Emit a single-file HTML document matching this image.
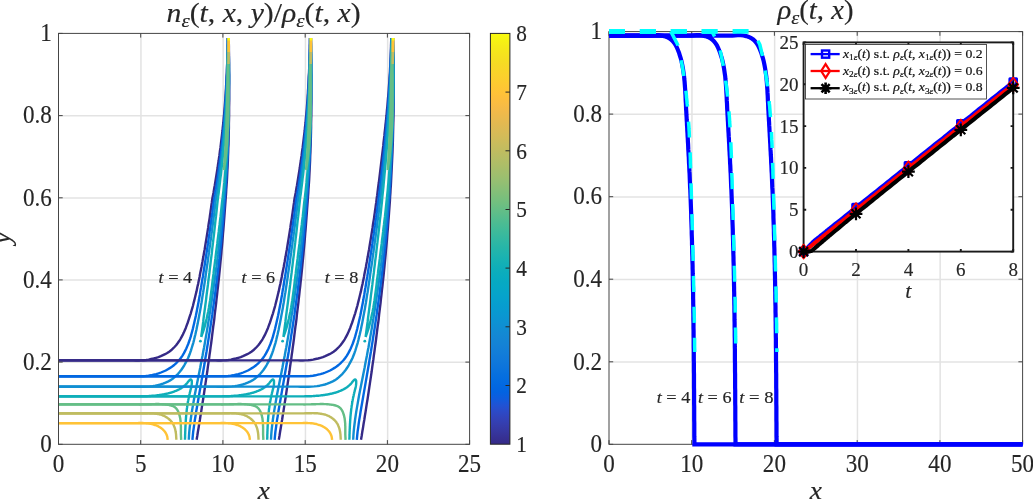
<!DOCTYPE html>
<html><head><meta charset="utf-8"><title>figure</title>
<style>html,body{margin:0;padding:0;background:#fff;overflow:hidden}svg{display:block}</style>
</head><body>
<svg width="1033" height="500" viewBox="0 0 1033 500">
<rect x="58.5" y="33.4" width="411.1" height="410.9" fill="#fff"/>
<path d="M140.7 33.4 V444.3 M222.9 33.4 V444.3 M305.2 33.4 V444.3 M387.4 33.4 V444.3 M58.5 362.1 H469.6 M58.5 279.9 H469.6 M58.5 197.8 H469.6 M58.5 115.6 H469.6" stroke="#e3e3e3" stroke-width="1.5" fill="none" transform="translate(0.25 0.2)"/>
<clipPath id="cl"><rect x="58.5" y="33.4" width="411.1" height="410.9"/></clipPath>
<g clip-path="url(#cl)" fill="none" stroke-width="2.4" stroke-linejoin="round" stroke-linecap="butt">
<path d="M58.5 360.4 L97.6 360.4 L100.5 360.4 L102.9 360.4 L105.4 360.4 L107.9 360.4 L110.4 360.4 L112.9 360.4 L115.4 360.4 L118.0 360.4 L120.5 360.4 L123.1 360.4 L125.6 360.4 L128.2 360.4 L130.8 360.4 L133.3 360.4 L135.9 360.5 L138.5 360.5 L141.1 360.4 L143.7 360.3 L146.2 360.0 L148.7 359.6 L151.2 359.0 L153.7 358.5 L156.1 357.8 L158.5 357.1 L160.8 356.2 L163.0 355.2 L165.1 354.2 L167.2 353.0 L169.2 351.7 L171.1 350.3 L172.8 348.7 L174.5 347.0 L176.1 345.3 L177.6 343.3 L179.0 341.3 L180.3 339.3 L181.5 337.1 L182.7 334.9 L183.8 332.6 L184.8 330.2 L185.8 327.9 L186.7 325.4 L187.6 323.0 L188.4 320.6 L189.2 318.1 L190.0 315.7 L190.8 313.3 L191.5 310.8 L192.2 308.4 L192.9 306.0 L193.5 303.5 L194.1 301.1 L194.7 298.7 L195.3 296.2 L195.9 293.8 L196.5 291.4 L197.0 288.9 L197.5 286.5 L198.1 284.1 L198.6 281.6 L199.1 279.2 L199.6 276.7 L200.0 274.3 L200.5 271.8 L201.0 269.4 L201.5 266.9 L201.9 264.5 L202.4 262.0 L202.8 259.6 L203.3 257.1 L203.7 254.7 L204.1 252.2 L204.6 249.7 L205.0 247.3 L205.4 244.8 L205.8 242.3 L206.2 239.9 L206.6 237.4 L207.0 234.9 L207.4 232.4 L207.8 230.0 L208.2 227.5 L208.5 225.0 L208.9 222.5 L209.3 220.1 L209.7 217.6 L210.0 215.1 L210.4 212.6 L210.7 210.1 L211.1 207.6 L211.4 205.2 L211.8 202.7 L212.1 200.2 L212.5 197.7 L213.0 195.2 L213.5 192.7 L213.9 190.2 L214.3 187.7 L214.8 185.3 L215.2 182.8 L215.6 180.3 L216.0 177.8 L216.4 175.3 L216.8 172.8 L217.2 170.3 L217.6 167.8 L217.9 165.3 L218.3 162.8 L218.7 160.3 L219.0 157.9 L219.4 155.4 L219.7 152.9 L220.0 150.4 L220.4 147.9 L220.7 145.4 L221.0 142.9 L221.3 140.4 L221.6 137.9 L221.9 135.4 L222.2 132.9 L222.5 130.5 L222.7 128.0 L223.0 125.5 L223.3 123.0 L223.5 120.5 L223.7 118.0 L224.0 115.5 L224.2 113.0 L224.4 110.5 L224.6 108.0 L224.8 105.5 L225.0 103.0 L225.2 100.6 L225.4 98.1 L225.5 95.6 L225.7 93.1 L225.8 90.6 L226.0 88.1 L226.1 85.6 L226.3 83.1 L226.4 80.6 L226.5 78.1 L226.6 75.6 L226.8 73.1 L226.9 70.6 L227.0 68.1 L227.1 65.6 L227.2 63.1 L227.2 60.6 L227.3 58.1 L227.4 55.6 L227.5 53.1 L227.5 50.5 L227.6 48.0 L227.6 45.5 L227.7 43.0 L227.7 40.5 L227.7 38.0 M196.6 439.8 L197.3 435.8 L197.9 431.8 L198.6 427.7 L199.2 423.7 L199.9 419.7 L200.5 415.7 L201.2 411.6 L201.8 407.6 L202.4 403.6 L203.1 399.5 L203.7 395.5 L204.3 391.5 L204.9 387.4 L205.5 383.4 L206.1 379.4 L206.7 375.3 L207.3 371.3 L207.8 367.3 L208.4 363.2 L209.0 359.2 L209.5 355.2 L210.1 351.1 L210.6 347.1 L211.2 343.0 L211.7 339.0 L212.2 334.9 L212.7 330.9 L213.2 326.8 L213.8 322.8 L214.3 318.8 L214.7 314.7 L215.2 310.7 L215.7 306.6 L216.2 302.6 L216.6 298.5 L217.1 294.4 L217.5 290.4 L218.0 286.3 L218.4 282.3 L218.9 278.2 L219.3 274.2 L219.7 270.1 L220.1 266.1 L220.5 262.0 L220.9 257.9 L221.3 253.9 L221.6 249.8 L222.0 245.8 L222.4 241.7 L222.7 237.6 L223.0 233.6 L223.4 229.5 L223.7 225.4 L224.0 221.4 L224.3 217.3 L224.6 213.3 L224.9 209.2 L225.2 205.1 L225.5 201.1 L225.8 197.0 L226.1 192.9 L226.3 188.8 L226.6 184.8 L226.9 180.7 L227.1 176.6 L227.3 172.6 L227.5 168.5 L227.7 164.4 L227.9 160.4 L228.0 156.3 L228.2 152.2 L228.3 148.1 L228.5 144.1 L228.6 140.0 L228.7 135.9 L228.8 131.8 L228.9 127.8 L228.9 123.7 L229.0 119.6 L229.1 115.5 L229.1 111.4 L229.1 107.4 L229.2 103.3 L229.2 99.2 L229.2 95.1 L229.2 91.1 L229.2 87.0 L229.2 82.9 L229.2 78.8 L229.2 74.7 L229.1 70.7 L229.1 66.6 L229.1 62.5 L229.0 58.4 L229.0 54.3 L228.9 50.2 L228.9 46.2 L228.8 42.1 L228.7 38.0" stroke="#352a87"/>
<path d="M58.5 376.2 L97.6 376.2 L100.5 376.2 L103.1 376.2 L105.6 376.2 L108.2 376.2 L110.9 376.2 L113.5 376.2 L116.2 376.2 L118.9 376.2 L121.6 376.2 L124.3 376.2 L127.0 376.2 L129.7 376.2 L132.4 376.2 L135.1 376.3 L137.8 376.3 L140.5 376.3 L143.2 376.2 L145.8 376.0 L148.5 375.7 L151.1 375.3 L153.6 374.7 L156.1 374.1 L158.6 373.4 L161.0 372.5 L163.4 371.5 L165.7 370.5 L167.9 369.2 L170.1 367.9 L172.2 366.5 L174.2 365.0 L176.0 363.3 L177.8 361.5 L179.5 359.7 L181.0 357.7 L182.5 355.6 L183.8 353.4 L185.0 351.1 L186.2 348.8 L187.2 346.4 L188.2 344.0 L189.1 341.5 L190.0 338.9 L190.8 336.4 L191.5 333.8 L192.2 331.2 L192.9 328.6 L193.5 326.0 L194.1 323.4 L194.7 320.8 L195.3 318.2 L195.9 315.6 L196.4 313.0 L196.9 310.4 L197.4 307.8 L197.9 305.2 L198.4 302.7 L198.9 300.1 L199.3 297.5 L199.8 295.0 L200.2 292.4 L200.6 289.8 L201.1 287.3 L201.5 284.7 L201.9 282.1 L202.3 279.6 L202.8 277.0 L203.2 274.4 L203.6 271.9 L204.0 269.3 L204.4 266.7 L204.8 264.2 L205.2 261.6 L205.6 259.0 L206.0 256.4 L206.4 253.9 L206.8 251.3 L207.2 248.7 L207.6 246.1 L208.0 243.5 L208.3 241.0 L208.7 238.4 L209.1 235.8 L209.5 233.2 L209.8 230.6 L210.2 228.0 L210.6 225.5 L210.9 222.9 L211.3 220.3 L211.7 217.7 L212.0 215.1 L212.4 212.5 L212.7 209.9 L213.1 207.3 L213.4 204.7 L213.7 202.1 L214.1 199.5 L214.5 197.0 L215.0 194.4 L215.4 191.8 L215.9 189.2 L216.3 186.6 L216.7 184.0 L217.1 181.4 L217.5 178.8 L217.9 176.2 L218.3 173.6 L218.6 171.0 L219.0 168.4 L219.3 165.8 L219.7 163.2 L220.0 160.6 L220.4 158.0 L220.7 155.4 L221.0 152.8 L221.3 150.1 L221.6 147.5 L221.9 144.9 L222.2 142.3 L222.4 139.7 L222.7 137.1 L222.9 134.5 L223.2 131.9 L223.4 129.3 L223.7 126.7 L223.9 124.1 L224.1 121.5 L224.3 118.9 L224.5 116.3 L224.7 113.7 L224.9 111.0 L225.1 108.4 L225.3 105.8 L225.4 103.2 L225.6 100.6 L225.7 98.0 L225.9 95.4 L226.0 92.8 L226.2 90.2 L226.3 87.6 L226.4 85.0 L226.5 82.3 L226.6 79.7 L226.7 77.1 L226.9 74.5 L227.0 71.9 L227.0 69.3 L227.1 66.7 L227.2 64.1 L227.3 61.5 L227.4 58.9 L227.5 56.3 L227.5 53.6 L227.6 51.0 L227.7 48.4 L227.7 45.8 L227.8 43.2 L227.8 40.6 L227.9 38.0 M192.4 439.8 L192.8 435.7 L193.2 431.7 L193.8 427.6 L194.3 423.6 L194.9 419.6 L195.6 415.6 L196.2 411.5 L196.9 407.5 L197.6 403.5 L198.3 399.5 L199.0 395.4 L199.7 391.4 L200.4 387.4 L201.1 383.4 L201.8 379.4 L202.5 375.3 L203.2 371.3 L203.9 367.3 L204.6 363.3 L205.2 359.2 L205.9 355.2 L206.6 351.2 L207.2 347.2 L207.9 343.1 L208.5 339.1 L209.1 335.1 L209.8 331.0 L210.4 327.0 L211.0 322.9 L211.6 318.9 L212.2 314.9 L212.7 310.8 L213.3 306.8 L213.9 302.7 L214.4 298.7 L215.0 294.6 L215.5 290.6 L216.0 286.5 L216.5 282.5 L217.0 278.4 L217.5 274.4 L218.0 270.3 L218.5 266.3 L218.9 262.2 L219.4 258.2 L219.8 254.1 L220.2 250.0 L220.7 246.0 L221.1 241.9 L221.5 237.8 L221.9 233.8 L222.2 229.7 L222.6 225.6 L223.0 221.6 L223.3 217.5 L223.6 213.4 L224.0 209.4 L224.3 205.3 L224.6 201.2 L224.9 197.2 L225.2 193.1 L225.6 189.0 L225.8 184.9 L226.1 180.9 L226.4 176.8 L226.6 172.7 L226.9 168.6 L227.1 164.6 L227.3 160.5 L227.5 156.4 L227.7 152.3 L227.8 148.2 L228.0 144.2 L228.1 140.1 L228.2 136.0 L228.3 131.9 L228.4 127.8 L228.5 123.8 L228.6 119.7 L228.7 115.6 L228.7 111.5 L228.8 107.4 L228.8 103.4 L228.9 99.3 L228.9 95.2 L228.9 91.1 L228.9 87.0 L229.0 82.9 L229.0 78.8 L229.0 74.8 L228.9 70.7 L228.9 66.6 L228.9 62.5 L228.9 58.4 L228.8 54.3 L228.8 50.3 L228.8 46.2 L228.7 42.1 L228.7 38.0" stroke="#0268e1"/>
<path d="M58.5 386.6 L97.6 386.6 L101.0 386.6 L103.7 386.6 L106.4 386.6 L109.1 386.6 L111.7 386.6 L114.4 386.6 L117.1 386.6 L119.7 386.6 L122.4 386.6 L125.1 386.6 L127.8 386.6 L130.5 386.6 L133.2 386.6 L136.0 386.7 L138.7 386.7 L141.5 386.8 L144.3 386.8 L147.1 386.6 L149.8 386.4 L152.6 386.1 L155.3 385.7 L157.9 385.1 L160.5 384.5 L163.0 383.7 L165.5 382.7 L167.8 381.7 L170.1 380.4 L172.3 379.0 L174.3 377.4 L176.2 375.6 L178.1 373.8 L179.8 371.8 L181.4 369.7 L182.9 367.5 L184.3 365.3 L185.6 362.9 L186.8 360.6 L188.0 358.2 L189.0 355.7 L190.0 353.2 L190.9 350.6 L191.7 348.0 L192.5 345.4 L193.3 342.8 L194.0 340.1 L194.6 337.4 L195.3 334.8 L195.9 332.1 L196.5 329.4 L197.0 326.7 L197.6 324.1 L198.1 321.4 L198.6 318.7 L199.1 316.1 L199.6 313.4 L200.1 310.8 L200.6 308.1 L201.0 305.5 L201.5 302.8 L201.9 300.2 L202.3 297.5 L202.7 294.9 L203.2 292.2 L203.6 289.6 L204.0 286.9 L204.4 284.3 L204.8 281.6 L205.2 279.0 L205.6 276.3 L205.9 273.7 L206.3 271.0 L206.7 268.4 L207.1 265.7 L207.5 263.1 L207.9 260.4 L208.2 257.8 L208.6 255.1 L209.0 252.5 L209.3 249.8 L209.7 247.1 L210.1 244.5 L210.4 241.8 L210.8 239.2 L211.2 236.5 L211.5 233.8 L211.9 231.2 L212.2 228.5 L212.6 225.8 L212.9 223.2 L213.2 220.5 L213.6 217.8 L213.9 215.2 L214.3 212.5 L214.6 209.8 L214.9 207.1 L215.2 204.5 L215.5 201.8 L215.9 199.1 L216.3 196.4 L216.7 193.8 L217.2 191.1 L217.6 188.4 L217.9 185.7 L218.3 183.0 L218.7 180.4 L219.1 177.7 L219.4 175.0 L219.8 172.3 L220.1 169.6 L220.4 167.0 L220.8 164.3 L221.1 161.6 L221.4 158.9 L221.7 156.2 L222.0 153.6 L222.3 150.9 L222.5 148.2 L222.8 145.5 L223.1 142.8 L223.3 140.1 L223.6 137.4 L223.8 134.8 L224.0 132.1 L224.2 129.4 L224.5 126.7 L224.7 124.0 L224.9 121.3 L225.1 118.6 L225.2 115.9 L225.4 113.3 L225.6 110.6 L225.7 107.9 L225.9 105.2 L226.0 102.5 L226.2 99.8 L226.3 97.1 L226.4 94.4 L226.5 91.7 L226.7 89.1 L226.8 86.4 L226.9 83.7 L227.0 81.0 L227.1 78.3 L227.2 75.6 L227.2 72.9 L227.3 70.2 L227.4 67.6 L227.5 64.9 L227.5 62.2 L227.6 59.5 L227.7 56.8 L227.7 54.1 L227.8 51.4 L227.8 48.7 L227.9 46.1 L227.9 43.4 L227.9 40.7 L228.0 38.0 M188.8 439.8 L189.0 435.7 L189.3 431.6 L189.7 427.6 L190.2 423.5 L190.7 419.5 L191.3 415.4 L191.9 411.4 L192.6 407.4 L193.3 403.4 L194.0 399.3 L194.7 395.3 L195.5 391.3 L196.3 387.3 L197.1 383.3 L197.9 379.3 L198.7 375.3 L199.5 371.3 L200.3 367.3 L201.0 363.3 L201.8 359.2 L202.6 355.2 L203.3 351.2 L204.1 347.2 L204.8 343.2 L205.5 339.1 L206.2 335.1 L206.9 331.1 L207.6 327.0 L208.2 323.0 L208.9 319.0 L209.5 314.9 L210.2 310.9 L210.8 306.9 L211.4 302.8 L212.0 298.8 L212.6 294.7 L213.2 290.7 L213.7 286.6 L214.3 282.6 L214.9 278.5 L215.4 274.5 L215.9 270.4 L216.5 266.4 L217.0 262.3 L217.5 258.2 L218.0 254.2 L218.4 250.1 L218.9 246.1 L219.4 242.0 L219.8 237.9 L220.3 233.9 L220.7 229.8 L221.1 225.7 L221.5 221.7 L222.0 217.6 L222.3 213.5 L222.7 209.5 L223.1 205.4 L223.5 201.3 L223.9 197.3 L224.3 193.2 L224.6 189.1 L225.0 185.0 L225.3 181.0 L225.7 176.9 L226.0 172.8 L226.3 168.7 L226.5 164.7 L226.8 160.6 L227.0 156.5 L227.3 152.4 L227.5 148.3 L227.7 144.3 L227.8 140.2 L228.0 136.1 L228.1 132.0 L228.3 127.9 L228.4 123.9 L228.5 119.8 L228.6 115.7 L228.7 111.6 L228.8 107.5 L228.8 103.4 L228.9 99.3 L228.9 95.3 L228.9 91.2 L229.0 87.1 L229.0 83.0 L229.0 78.9 L229.0 74.8 L229.0 70.7 L228.9 66.6 L228.9 62.5 L228.9 58.5 L228.8 54.4 L228.8 50.3 L228.7 46.2 L228.7 42.1 L228.6 38.0" stroke="#108ed2"/>
<path d="M58.5 396.4 L97.6 396.4 L98.3 396.4 L98.9 396.4 L99.4 396.4 L100.0 396.4 L100.5 396.4 L101.0 396.4 L101.6 396.4 L102.1 396.4 L102.7 396.4 L103.2 396.4 L103.8 396.4 L104.3 396.4 L104.8 396.4 L105.4 396.4 L105.9 396.4 L106.5 396.4 L107.0 396.4 L107.5 396.4 L108.1 396.4 L108.6 396.4 L109.2 396.4 L109.7 396.4 L110.2 396.4 L110.8 396.4 L111.3 396.4 L111.8 396.4 L112.4 396.4 L112.9 396.4 L113.5 396.4 L114.0 396.4 L114.5 396.4 L115.1 396.4 L115.6 396.4 L116.2 396.4 L116.7 396.4 L117.2 396.4 L117.8 396.4 L118.3 396.4 L118.8 396.4 L119.4 396.4 L119.9 396.4 L120.5 396.4 L121.0 396.4 L121.5 396.4 L122.1 396.4 L122.6 396.4 L123.1 396.4 L123.7 396.4 L124.2 396.4 L124.8 396.4 L125.3 396.4 L125.8 396.4 L126.4 396.4 L126.9 396.4 L127.5 396.4 L128.0 396.4 L128.5 396.4 L129.1 396.4 L129.6 396.4 L130.2 396.4 L130.7 396.4 L131.2 396.4 L131.8 396.4 L132.3 396.4 L132.9 396.4 L133.4 396.4 L133.9 396.4 L134.5 396.4 L135.0 396.4 L135.6 396.4 L136.1 396.4 L136.7 396.4 L137.2 396.4 L137.7 396.4 L138.3 396.4 L138.8 396.4 L139.4 396.4 L139.9 396.4 L140.5 396.3 L141.0 396.3 L141.6 396.3 L142.1 396.3 L142.6 396.3 L143.2 396.3 L143.7 396.3 L144.3 396.3 L144.8 396.2 L145.4 396.2 L145.9 396.2 L146.5 396.2 L147.0 396.2 L147.6 396.1 L148.1 396.1 L148.6 396.1 L149.2 396.0 L149.7 396.0 L150.3 396.0 L150.8 395.9 L151.4 395.9 L151.9 395.8 L152.4 395.8 L153.0 395.7 L153.5 395.7 L154.1 395.7 L154.6 395.6 L155.1 395.6 L155.7 395.5 L156.2 395.4 L156.8 395.4 L157.3 395.3 L157.8 395.3 L158.4 395.2 L158.9 395.1 L159.4 395.0 L160.0 395.0 L160.5 394.9 L161.0 394.8 L161.6 394.7 L162.1 394.6 L162.6 394.5 L163.2 394.5 L163.7 394.4 L164.2 394.3 L164.7 394.2 L165.3 394.0 L165.8 393.9 L166.3 393.8 L166.8 393.7 L167.4 393.6 L167.9 393.5 L168.4 393.3 L168.9 393.2 L169.4 393.0 L169.9 392.9 L170.5 392.8 L171.0 392.6 L171.5 392.5 L172.0 392.3 L172.5 392.1 L173.0 392.0 L173.5 391.8 L174.0 391.6 L174.5 391.4 L175.0 391.2 L175.5 391.0 L176.0 390.8 L176.5 390.6 L177.0 390.4 L177.5 390.2 L178.0 389.9 L178.5 389.7 L178.9 389.5 L179.4 389.2 L179.9 388.9 L180.3 388.7 L180.8 388.4 L181.3 388.1 L181.7 387.8 L182.2 387.5 L182.6 387.2 L183.0 386.9 L183.5 386.5 L183.9 386.2 L184.3 385.8 L184.8 385.4 L185.2 385.1 L185.6 384.7 L186.0 384.3 L186.4 383.9 L186.8 383.4 L187.2 383.0 L187.5 382.6 L187.9 382.1 L188.3 381.6 L188.6 381.2 L189.0 380.7 L189.4 380.3 L189.7 380.0 L190.0 379.7 L190.4 379.5 L190.7 379.5 L191.0 379.6 L191.3 379.8 L191.5 380.1 L191.7 380.6 L191.8 381.1 L191.8 381.7 L191.8 382.3 L191.8 383.0 L191.8 383.6 L191.7 384.2 L191.7 384.8 L191.6 385.3 L191.5 385.9 L191.4 386.4 L191.3 387.0 L191.2 387.5 L191.1 388.0 L190.9 388.5 L190.8 389.0 L190.7 389.5 L190.5 390.0 L190.4 390.5 L190.3 391.0 L190.2 391.6 L190.0 392.1 L189.9 392.6 L189.8 393.1 L189.7 393.6 L189.5 394.1 L189.4 394.6 L189.3 395.2 L189.2 395.7 L189.1 396.2 L189.0 396.7 L188.8 397.3 L188.7 397.8 L188.6 398.3 L188.5 398.9 L188.4 399.4 L188.3 399.9 L188.2 400.5 L188.1 401.0 L188.0 401.5 L187.9 402.1 L187.8 402.6 L187.7 403.2 L187.7 403.7 L187.6 404.2 L187.5 404.8 L187.4 405.3 L187.3 405.8 L187.2 406.4 L187.2 406.9 L187.1 407.5 L187.0 408.0 L186.9 408.5 L186.9 409.1 L186.8 409.6 L186.7 410.1 L186.7 410.7 L186.6 411.2 L186.6 411.8 L186.5 412.3 L186.4 412.8 L186.4 413.4 L186.3 413.9 L186.3 414.4 L186.2 415.0 L186.2 415.5 L186.1 416.1 L186.1 416.6 L186.0 417.1 L186.0 417.7 L186.0 418.2 L185.9 418.7 L185.9 419.3 L185.8 419.8 L185.8 420.4 L185.8 420.9 L185.7 421.4 L185.7 422.0 L185.7 422.5 L185.6 423.1 L185.6 423.6 L185.6 424.1 L185.5 424.7 L185.5 425.2 L185.5 425.7 L185.5 426.3 L185.4 426.8 L185.4 427.4 L185.4 427.9 L185.4 428.4 L185.3 429.0 L185.3 429.5 L185.3 430.1 L185.3 430.6 L185.3 431.1 L185.2 431.7 L185.2 432.2 L185.2 432.8 L185.2 433.3 L185.2 433.8 L185.1 434.4 L185.1 434.9 L185.1 435.5 L185.1 436.0 L185.1 436.5 L185.1 437.1 L185.1 437.6 L185.0 438.2 L185.0 438.7 L185.0 439.3 L185.0 439.8 M201.2 337.0 L201.7 333.2 L202.2 329.5 L202.7 325.7 L203.2 321.9 L203.6 318.2 L204.1 314.4 L204.6 310.6 L205.1 306.8 L205.6 303.1 L206.1 299.3 L206.5 295.5 L207.0 291.8 L207.5 288.0 L208.0 284.2 L208.4 280.4 L208.9 276.7 L209.4 272.9 L209.8 269.1 L210.3 265.3 L210.7 261.6 L211.2 257.8 L211.7 254.0 L212.1 250.2 L212.5 246.5 L213.0 242.7 L213.4 238.9 L213.9 235.1 L214.3 231.4 L214.7 227.6 L215.1 223.8 L215.5 220.0 L216.0 216.2 L216.4 212.5 L216.8 208.7 L217.2 204.9 L217.6 201.1 L218.0 197.3 L218.6 193.5 L219.0 189.8 L219.5 186.0 L220.0 182.2 L220.4 178.4 L220.9 174.6 L221.3 170.8 L221.7 167.1 L222.1 163.3 L222.5 159.5 L222.9 155.7 L223.2 151.9 L223.5 148.1 L223.9 144.3 L224.2 140.5 L224.5 136.7 L224.8 133.0 L225.0 129.2 L225.3 125.4 L225.5 121.6 L225.8 117.8 L226.0 114.0 L226.2 110.2 L226.4 106.4 L226.5 102.6 L226.7 98.8 L226.9 95.0 L227.0 91.2 L227.1 87.4 L227.3 83.6 L227.4 79.8 L227.5 76.0 L227.6 72.2 L227.7 68.4 L227.8 64.6 L227.8 60.8 L227.9 57.0 L228.0 53.2 L228.0 49.4 L228.1 45.6 L228.1 41.8 L228.1 38.0 M201.2 337.0 L202.5 333.4 L203.7 329.8 L204.8 326.2 L205.7 322.5 L206.6 318.8 L207.4 315.1 L208.2 311.4 L208.9 307.7 L209.5 303.9 L210.1 300.2 L210.6 296.4 L211.1 292.6 L211.6 288.8 L212.1 285.1 L212.5 281.3 L213.0 277.5 L213.5 273.7 L213.9 269.9 L214.4 266.1 L214.9 262.3 L215.4 258.5 L215.8 254.8 L216.3 251.0 L216.8 247.2 L217.3 243.4 L217.7 239.6 L218.2 235.8 L218.7 232.0 L219.1 228.2 L219.6 224.5 L220.0 220.7 L220.5 216.9 L220.9 213.1 L221.3 209.3 L221.7 205.5 L222.1 201.7 L222.6 197.9 L223.0 194.1 L223.5 190.3 L223.9 186.5 L224.3 182.7 L224.6 178.9 L225.0 175.1 L225.3 171.3 L225.6 167.5 L225.9 163.7 L226.2 159.9 L226.5 156.1 L226.7 152.3 L227.0 148.5 L227.2 144.7 L227.4 140.9 L227.6 137.1 L227.7 133.3 L227.9 129.5 L228.0 125.7 L228.2 121.9 L228.3 118.1 L228.4 114.3 L228.5 110.5 L228.6 106.7 L228.6 102.8 L228.7 99.0 L228.8 95.2 L228.8 91.4 L228.8 87.6 L228.9 83.8 L228.9 80.0 L228.9 76.2 L228.9 72.3 L228.9 68.5 L228.9 64.7 L228.8 60.9 L228.8 57.1 L228.8 53.3 L228.7 49.5 L228.7 45.6 L228.6 41.8 L228.6 38.0" stroke="#0faeb9"/>
<path d="M58.5 404.4 L97.6 404.4 L99.4 404.4 L100.4 404.4 L101.3 404.4 L102.3 404.4 L103.2 404.4 L104.2 404.4 L105.2 404.4 L106.1 404.4 L107.1 404.4 L108.0 404.4 L109.0 404.4 L109.9 404.4 L110.9 404.4 L111.9 404.4 L112.8 404.4 L113.8 404.4 L114.7 404.4 L115.7 404.4 L116.6 404.4 L117.6 404.4 L118.6 404.4 L119.5 404.4 L120.5 404.4 L121.4 404.4 L122.4 404.4 L123.3 404.4 L124.3 404.4 L125.3 404.4 L126.2 404.4 L127.2 404.4 L128.1 404.4 L129.1 404.4 L130.0 404.4 L131.0 404.4 L132.0 404.4 L132.9 404.4 L133.9 404.4 L134.8 404.4 L135.8 404.4 L136.7 404.4 L137.7 404.4 L138.7 404.4 L139.6 404.5 L140.6 404.5 L141.5 404.4 L142.5 404.4 L143.4 404.4 L144.4 404.4 L145.3 404.4 L146.3 404.4 L147.3 404.3 L148.2 404.3 L149.2 404.3 L150.1 404.2 L151.1 404.2 L152.0 404.1 L153.0 404.1 L153.9 404.1 L154.9 404.1 L155.9 404.0 L156.8 404.0 L157.8 404.0 L158.7 404.0 L159.7 404.1 L160.6 404.1 L161.6 404.1 L162.6 404.2 L163.5 404.3 L164.5 404.4 L165.4 404.5 L166.4 404.6 L167.4 404.7 L168.3 404.9 L169.3 405.0 L170.2 405.3 L171.2 405.5 L172.1 405.8 L173.0 406.1 L173.8 406.6 L174.6 407.0 L175.3 407.6 L176.0 408.2 L176.6 408.9 L177.1 409.6 L177.6 410.4 L178.1 411.3 L178.5 412.2 L178.8 413.1 L179.1 414.0 L179.4 415.0 L179.7 415.9 L179.9 416.9 L180.1 417.8 L180.3 418.8 L180.4 419.8 L180.5 420.7 L180.6 421.7 L180.7 422.6 L180.8 423.6 L180.8 424.5 L180.8 425.5 L180.9 426.4 L180.9 427.4 L180.9 428.3 L180.9 429.3 L180.9 430.2 L180.9 431.2 L180.9 432.2 L180.9 433.1 L180.9 434.1 L180.9 435.0 L181.0 436.0 L181.0 436.9 L181.1 437.9 L181.1 438.8 L181.2 439.8 M223.9 170.0 L224.1 166.6 L224.4 163.2 L224.6 159.9 L224.9 156.5 L225.1 153.1 L225.3 149.7 L225.5 146.3 L225.7 143.0 L225.8 139.6 L226.0 136.2 L226.1 132.8 L226.3 129.4 L226.4 126.0 L226.5 122.6 L226.6 119.3 L226.7 115.9 L226.8 112.5 L226.9 109.1 L227.0 105.7 L227.1 102.3 L227.2 98.9 L227.2 95.6 L227.3 92.2 L227.4 88.8 L227.4 85.4 L227.5 82.0 L227.6 78.6 L227.6 75.2 L227.7 71.9 L227.7 68.5 L227.8 65.1 L227.8 61.7 L227.9 58.3 L228.0 54.9 L228.0 51.5 L228.1 48.2 L228.2 44.8 L228.2 41.4 L228.3 38.0 M223.9 170.0 L224.4 166.6 L224.9 163.3 L225.4 159.9 L225.8 156.6 L226.2 153.2 L226.5 149.8 L226.8 146.5 L227.1 143.1 L227.3 139.7 L227.5 136.3 L227.7 132.9 L227.8 129.6 L228.0 126.2 L228.1 122.8 L228.2 119.4 L228.3 116.0 L228.3 112.6 L228.4 109.2 L228.4 105.8 L228.4 102.5 L228.5 99.1 L228.5 95.7 L228.5 92.3 L228.5 88.9 L228.5 85.5 L228.5 82.1 L228.4 78.7 L228.4 75.3 L228.4 71.9 L228.4 68.5 L228.4 65.1 L228.4 61.7 L228.4 58.3 L228.4 54.9 L228.4 51.5 L228.4 48.2 L228.4 44.8 L228.5 41.4 L228.5 38.0" stroke="#65be86"/>
<path d="M58.5 413.4 L97.6 413.4 L98.9 413.4 L99.7 413.4 L100.5 413.4 L101.3 413.4 L102.2 413.4 L103.0 413.4 L103.8 413.4 L104.6 413.4 L105.4 413.4 L106.3 413.4 L107.1 413.4 L107.9 413.4 L108.7 413.4 L109.5 413.4 L110.3 413.4 L111.2 413.4 L112.0 413.4 L112.8 413.4 L113.6 413.4 L114.4 413.4 L115.2 413.4 L116.1 413.4 L116.9 413.4 L117.7 413.4 L118.5 413.4 L119.3 413.4 L120.1 413.4 L121.0 413.4 L121.8 413.4 L122.6 413.4 L123.4 413.4 L124.2 413.4 L125.0 413.4 L125.9 413.4 L126.7 413.4 L127.5 413.4 L128.3 413.4 L129.1 413.4 L129.9 413.4 L130.8 413.4 L131.6 413.4 L132.4 413.4 L133.2 413.4 L134.0 413.4 L134.9 413.4 L135.7 413.4 L136.5 413.4 L137.3 413.4 L138.1 413.4 L139.0 413.4 L139.8 413.4 L140.6 413.3 L141.4 413.3 L142.2 413.3 L143.1 413.3 L143.9 413.2 L144.7 413.2 L145.5 413.2 L146.3 413.2 L147.2 413.2 L148.0 413.1 L148.8 413.1 L149.6 413.2 L150.5 413.2 L151.3 413.2 L152.1 413.3 L152.9 413.3 L153.7 413.4 L154.6 413.5 L155.4 413.6 L156.2 413.7 L157.0 413.8 L157.8 414.0 L158.6 414.1 L159.4 414.3 L160.2 414.5 L161.0 414.7 L161.8 415.0 L162.6 415.3 L163.3 415.6 L164.1 415.9 L164.8 416.3 L165.5 416.7 L166.2 417.1 L166.9 417.5 L167.6 418.0 L168.2 418.4 L168.8 419.0 L169.4 419.5 L170.0 420.0 L170.6 420.6 L171.1 421.2 L171.6 421.8 L172.1 422.5 L172.5 423.1 L173.0 423.8 L173.4 424.5 L173.7 425.2 L174.0 426.0 L174.3 426.7 L174.6 427.5 L174.9 428.3 L175.1 429.1 L175.3 429.9 L175.5 430.8 L175.6 431.6 L175.8 432.4 L175.9 433.3 L176.0 434.1 L176.1 434.9 L176.1 435.8 L176.2 436.6 L176.2 437.4 L176.3 438.2 L176.3 439.0 L176.3 439.8 M228.5 64.0 L228.6 61.1 L228.6 58.2 L228.6 55.3 L228.6 52.4 L228.6 49.6 L228.6 46.7 L228.6 43.8 L228.7 40.9 L228.7 38.0 M228.5 64.0 L228.6 61.1 L228.7 58.2 L228.7 55.3 L228.8 52.4 L228.8 49.6 L228.8 46.7 L228.8 43.8 L228.8 40.9 L228.8 38.0" stroke="#c0bc60"/>
<path d="M58.5 423.1 L97.6 423.1 L98.3 423.1 L99.0 423.1 L99.7 423.1 L100.4 423.1 L101.1 423.1 L101.7 423.1 L102.4 423.1 L103.1 423.1 L103.8 423.1 L104.4 423.1 L105.1 423.1 L105.8 423.1 L106.5 423.1 L107.1 423.1 L107.8 423.1 L108.5 423.1 L109.2 423.1 L109.8 423.1 L110.5 423.1 L111.2 423.1 L111.8 423.1 L112.5 423.1 L113.2 423.1 L113.9 423.1 L114.5 423.1 L115.2 423.1 L115.9 423.1 L116.5 423.1 L117.2 423.1 L117.9 423.1 L118.6 423.1 L119.2 423.1 L119.9 423.1 L120.6 423.1 L121.2 423.1 L121.9 423.1 L122.6 423.1 L123.3 423.1 L123.9 423.1 L124.6 423.1 L125.3 423.1 L125.9 423.1 L126.6 423.1 L127.3 423.1 L128.0 423.1 L128.6 423.1 L129.3 423.1 L130.0 423.1 L130.7 423.1 L131.3 423.1 L132.0 423.1 L132.7 423.1 L133.4 423.1 L134.0 423.1 L134.7 423.1 L135.4 423.1 L136.1 423.1 L136.8 423.1 L137.4 423.1 L138.1 423.1 L138.8 423.0 L139.5 423.0 L140.2 423.0 L140.8 423.0 L141.5 423.0 L142.2 423.0 L142.9 423.0 L143.6 423.1 L144.2 423.1 L144.9 423.1 L145.6 423.1 L146.3 423.2 L147.0 423.3 L147.6 423.3 L148.3 423.4 L149.0 423.5 L149.7 423.6 L150.3 423.7 L151.0 423.9 L151.7 424.0 L152.3 424.2 L153.0 424.4 L153.6 424.6 L154.3 424.8 L154.9 425.0 L155.6 425.2 L156.2 425.4 L156.8 425.7 L157.5 426.0 L158.1 426.2 L158.7 426.6 L159.2 426.9 L159.8 427.2 L160.4 427.6 L160.9 427.9 L161.4 428.3 L162.0 428.7 L162.5 429.1 L162.9 429.6 L163.4 430.0 L163.8 430.5 L164.3 431.0 L164.7 431.5 L165.1 432.0 L165.4 432.5 L165.8 433.1 L166.1 433.7 L166.4 434.3 L166.6 434.9 L166.9 435.5 L167.1 436.2 L167.3 436.9 L167.4 437.6 L167.5 438.3 L167.6 439.0 L167.7 439.8 M228.7 52.0 L228.7 48.5 L228.7 45.0 L228.7 41.5 L228.7 38.0 M228.7 52.0 L228.8 48.5 L228.8 45.0 L228.8 41.5 L228.8 38.0" stroke="#ffc337"/>
<path d="M228.8 40.5 L228.8 39.2 L228.8 38.0" stroke="#f9fb0e"/>
<circle cx="200.4" cy="341.2" r="1.4" fill="#0faeb9" stroke="none"/>
<path d="M58.5 360.4 L179.8 360.4 L182.7 360.4 L185.1 360.4 L187.6 360.4 L190.1 360.4 L192.6 360.4 L195.1 360.4 L197.6 360.4 L200.2 360.4 L202.7 360.4 L205.3 360.4 L207.8 360.4 L210.4 360.4 L213.0 360.4 L215.5 360.4 L218.1 360.5 L220.7 360.5 L223.3 360.4 L225.9 360.3 L228.4 360.0 L230.9 359.6 L233.4 359.0 L235.9 358.5 L238.3 357.8 L240.7 357.1 L243.0 356.2 L245.2 355.2 L247.3 354.2 L249.4 353.0 L251.4 351.7 L253.3 350.3 L255.0 348.7 L256.7 347.0 L258.3 345.3 L259.8 343.3 L261.2 341.3 L262.5 339.3 L263.7 337.1 L264.9 334.9 L266.0 332.6 L267.0 330.2 L268.0 327.9 L268.9 325.4 L269.8 323.0 L270.6 320.6 L271.4 318.1 L272.2 315.7 L273.0 313.3 L273.7 310.8 L274.4 308.4 L275.1 306.0 L275.7 303.5 L276.3 301.1 L276.9 298.7 L277.5 296.2 L278.1 293.8 L278.7 291.4 L279.2 288.9 L279.7 286.5 L280.3 284.1 L280.8 281.6 L281.3 279.2 L281.8 276.7 L282.2 274.3 L282.7 271.8 L283.2 269.4 L283.7 266.9 L284.1 264.5 L284.6 262.0 L285.0 259.6 L285.5 257.1 L285.9 254.7 L286.3 252.2 L286.8 249.7 L287.2 247.3 L287.6 244.8 L288.0 242.3 L288.4 239.9 L288.8 237.4 L289.2 234.9 L289.6 232.4 L290.0 230.0 L290.4 227.5 L290.7 225.0 L291.1 222.5 L291.5 220.1 L291.9 217.6 L292.2 215.1 L292.6 212.6 L292.9 210.1 L293.3 207.6 L293.6 205.2 L294.0 202.7 L294.3 200.2 L294.7 197.7 L295.2 195.2 L295.7 192.7 L296.1 190.2 L296.5 187.7 L297.0 185.3 L297.4 182.8 L297.8 180.3 L298.2 177.8 L298.6 175.3 L299.0 172.8 L299.4 170.3 L299.8 167.8 L300.1 165.3 L300.5 162.8 L300.9 160.3 L301.2 157.9 L301.6 155.4 L301.9 152.9 L302.2 150.4 L302.6 147.9 L302.9 145.4 L303.2 142.9 L303.5 140.4 L303.8 137.9 L304.1 135.4 L304.4 132.9 L304.7 130.5 L304.9 128.0 L305.2 125.5 L305.5 123.0 L305.7 120.5 L305.9 118.0 L306.2 115.5 L306.4 113.0 L306.6 110.5 L306.8 108.0 L307.0 105.5 L307.2 103.0 L307.4 100.6 L307.6 98.1 L307.7 95.6 L307.9 93.1 L308.0 90.6 L308.2 88.1 L308.3 85.6 L308.5 83.1 L308.6 80.6 L308.7 78.1 L308.8 75.6 L309.0 73.1 L309.1 70.6 L309.2 68.1 L309.3 65.6 L309.4 63.1 L309.4 60.6 L309.5 58.1 L309.6 55.6 L309.7 53.1 L309.7 50.5 L309.8 48.0 L309.8 45.5 L309.9 43.0 L309.9 40.5 L309.9 38.0 M278.8 439.8 L279.5 435.8 L280.1 431.8 L280.8 427.7 L281.4 423.7 L282.1 419.7 L282.7 415.7 L283.4 411.6 L284.0 407.6 L284.6 403.6 L285.3 399.5 L285.9 395.5 L286.5 391.5 L287.1 387.4 L287.7 383.4 L288.3 379.4 L288.9 375.3 L289.5 371.3 L290.0 367.3 L290.6 363.2 L291.2 359.2 L291.7 355.2 L292.3 351.1 L292.8 347.1 L293.4 343.0 L293.9 339.0 L294.4 334.9 L294.9 330.9 L295.4 326.8 L296.0 322.8 L296.5 318.8 L296.9 314.7 L297.4 310.7 L297.9 306.6 L298.4 302.6 L298.8 298.5 L299.3 294.4 L299.7 290.4 L300.2 286.3 L300.6 282.3 L301.1 278.2 L301.5 274.2 L301.9 270.1 L302.3 266.1 L302.7 262.0 L303.1 257.9 L303.5 253.9 L303.8 249.8 L304.2 245.8 L304.6 241.7 L304.9 237.6 L305.2 233.6 L305.6 229.5 L305.9 225.4 L306.2 221.4 L306.5 217.3 L306.8 213.3 L307.1 209.2 L307.4 205.1 L307.7 201.1 L308.0 197.0 L308.3 192.9 L308.5 188.8 L308.8 184.8 L309.1 180.7 L309.3 176.6 L309.5 172.6 L309.7 168.5 L309.9 164.4 L310.1 160.4 L310.2 156.3 L310.4 152.2 L310.5 148.1 L310.7 144.1 L310.8 140.0 L310.9 135.9 L311.0 131.8 L311.1 127.8 L311.1 123.7 L311.2 119.6 L311.3 115.5 L311.3 111.4 L311.3 107.4 L311.4 103.3 L311.4 99.2 L311.4 95.1 L311.4 91.1 L311.4 87.0 L311.4 82.9 L311.4 78.8 L311.4 74.7 L311.3 70.7 L311.3 66.6 L311.3 62.5 L311.2 58.4 L311.2 54.3 L311.1 50.2 L311.1 46.2 L311.0 42.1 L310.9 38.0" stroke="#352a87"/>
<path d="M58.5 376.2 L179.8 376.2 L182.7 376.2 L185.3 376.2 L187.8 376.2 L190.4 376.2 L193.1 376.2 L195.7 376.2 L198.4 376.2 L201.1 376.2 L203.8 376.2 L206.5 376.2 L209.2 376.2 L211.9 376.2 L214.6 376.2 L217.3 376.3 L220.0 376.3 L222.7 376.3 L225.4 376.2 L228.0 376.0 L230.7 375.7 L233.3 375.3 L235.8 374.7 L238.3 374.1 L240.8 373.4 L243.2 372.5 L245.6 371.5 L247.9 370.5 L250.1 369.2 L252.3 367.9 L254.4 366.5 L256.4 365.0 L258.2 363.3 L260.0 361.5 L261.7 359.7 L263.2 357.7 L264.7 355.6 L266.0 353.4 L267.2 351.1 L268.4 348.8 L269.4 346.4 L270.4 344.0 L271.3 341.5 L272.2 338.9 L273.0 336.4 L273.7 333.8 L274.4 331.2 L275.1 328.6 L275.7 326.0 L276.3 323.4 L276.9 320.8 L277.5 318.2 L278.1 315.6 L278.6 313.0 L279.1 310.4 L279.6 307.8 L280.1 305.2 L280.6 302.7 L281.1 300.1 L281.5 297.5 L282.0 295.0 L282.4 292.4 L282.8 289.8 L283.3 287.3 L283.7 284.7 L284.1 282.1 L284.5 279.6 L285.0 277.0 L285.4 274.4 L285.8 271.9 L286.2 269.3 L286.6 266.7 L287.0 264.2 L287.4 261.6 L287.8 259.0 L288.2 256.4 L288.6 253.9 L289.0 251.3 L289.4 248.7 L289.8 246.1 L290.2 243.5 L290.5 241.0 L290.9 238.4 L291.3 235.8 L291.7 233.2 L292.0 230.6 L292.4 228.0 L292.8 225.5 L293.1 222.9 L293.5 220.3 L293.9 217.7 L294.2 215.1 L294.6 212.5 L294.9 209.9 L295.3 207.3 L295.6 204.7 L295.9 202.1 L296.3 199.5 L296.7 197.0 L297.2 194.4 L297.6 191.8 L298.1 189.2 L298.5 186.6 L298.9 184.0 L299.3 181.4 L299.7 178.8 L300.1 176.2 L300.5 173.6 L300.8 171.0 L301.2 168.4 L301.5 165.8 L301.9 163.2 L302.2 160.6 L302.6 158.0 L302.9 155.4 L303.2 152.8 L303.5 150.1 L303.8 147.5 L304.1 144.9 L304.4 142.3 L304.6 139.7 L304.9 137.1 L305.1 134.5 L305.4 131.9 L305.6 129.3 L305.9 126.7 L306.1 124.1 L306.3 121.5 L306.5 118.9 L306.7 116.3 L306.9 113.7 L307.1 111.0 L307.3 108.4 L307.5 105.8 L307.6 103.2 L307.8 100.6 L307.9 98.0 L308.1 95.4 L308.2 92.8 L308.4 90.2 L308.5 87.6 L308.6 85.0 L308.7 82.3 L308.8 79.7 L308.9 77.1 L309.1 74.5 L309.2 71.9 L309.2 69.3 L309.3 66.7 L309.4 64.1 L309.5 61.5 L309.6 58.9 L309.7 56.3 L309.7 53.6 L309.8 51.0 L309.9 48.4 L309.9 45.8 L310.0 43.2 L310.0 40.6 L310.1 38.0 M274.6 439.8 L275.0 435.7 L275.4 431.7 L276.0 427.6 L276.5 423.6 L277.1 419.6 L277.8 415.6 L278.4 411.5 L279.1 407.5 L279.8 403.5 L280.5 399.5 L281.2 395.4 L281.9 391.4 L282.6 387.4 L283.3 383.4 L284.0 379.4 L284.7 375.3 L285.4 371.3 L286.1 367.3 L286.8 363.3 L287.4 359.2 L288.1 355.2 L288.8 351.2 L289.4 347.2 L290.1 343.1 L290.7 339.1 L291.3 335.1 L292.0 331.0 L292.6 327.0 L293.2 322.9 L293.8 318.9 L294.4 314.9 L294.9 310.8 L295.5 306.8 L296.1 302.7 L296.6 298.7 L297.2 294.6 L297.7 290.6 L298.2 286.5 L298.7 282.5 L299.2 278.4 L299.7 274.4 L300.2 270.3 L300.7 266.3 L301.1 262.2 L301.6 258.2 L302.0 254.1 L302.4 250.0 L302.9 246.0 L303.3 241.9 L303.7 237.8 L304.1 233.8 L304.4 229.7 L304.8 225.6 L305.2 221.6 L305.5 217.5 L305.8 213.4 L306.2 209.4 L306.5 205.3 L306.8 201.2 L307.1 197.2 L307.4 193.1 L307.8 189.0 L308.0 184.9 L308.3 180.9 L308.6 176.8 L308.8 172.7 L309.1 168.6 L309.3 164.6 L309.5 160.5 L309.7 156.4 L309.9 152.3 L310.0 148.2 L310.2 144.2 L310.3 140.1 L310.4 136.0 L310.5 131.9 L310.6 127.8 L310.7 123.8 L310.8 119.7 L310.9 115.6 L310.9 111.5 L311.0 107.4 L311.0 103.4 L311.1 99.3 L311.1 95.2 L311.1 91.1 L311.1 87.0 L311.2 82.9 L311.2 78.8 L311.2 74.8 L311.1 70.7 L311.1 66.6 L311.1 62.5 L311.1 58.4 L311.0 54.3 L311.0 50.3 L311.0 46.2 L310.9 42.1 L310.9 38.0" stroke="#0268e1"/>
<path d="M58.5 386.6 L179.8 386.6 L183.2 386.6 L185.9 386.6 L188.6 386.6 L191.3 386.6 L193.9 386.6 L196.6 386.6 L199.3 386.6 L201.9 386.6 L204.6 386.6 L207.3 386.6 L210.0 386.6 L212.7 386.6 L215.4 386.6 L218.2 386.7 L220.9 386.7 L223.7 386.8 L226.5 386.8 L229.3 386.6 L232.0 386.4 L234.8 386.1 L237.5 385.7 L240.1 385.1 L242.7 384.5 L245.2 383.7 L247.7 382.7 L250.0 381.7 L252.3 380.4 L254.5 379.0 L256.5 377.4 L258.4 375.6 L260.3 373.8 L262.0 371.8 L263.6 369.7 L265.1 367.5 L266.5 365.3 L267.8 362.9 L269.0 360.6 L270.2 358.2 L271.2 355.7 L272.2 353.2 L273.1 350.6 L273.9 348.0 L274.7 345.4 L275.5 342.8 L276.2 340.1 L276.8 337.4 L277.5 334.8 L278.1 332.1 L278.7 329.4 L279.2 326.7 L279.8 324.1 L280.3 321.4 L280.8 318.7 L281.3 316.1 L281.8 313.4 L282.3 310.8 L282.8 308.1 L283.2 305.5 L283.7 302.8 L284.1 300.2 L284.5 297.5 L284.9 294.9 L285.4 292.2 L285.8 289.6 L286.2 286.9 L286.6 284.3 L287.0 281.6 L287.4 279.0 L287.8 276.3 L288.1 273.7 L288.5 271.0 L288.9 268.4 L289.3 265.7 L289.7 263.1 L290.1 260.4 L290.4 257.8 L290.8 255.1 L291.2 252.5 L291.5 249.8 L291.9 247.1 L292.3 244.5 L292.6 241.8 L293.0 239.2 L293.4 236.5 L293.7 233.8 L294.1 231.2 L294.4 228.5 L294.8 225.8 L295.1 223.2 L295.4 220.5 L295.8 217.8 L296.1 215.2 L296.5 212.5 L296.8 209.8 L297.1 207.1 L297.4 204.5 L297.7 201.8 L298.1 199.1 L298.5 196.4 L298.9 193.8 L299.4 191.1 L299.8 188.4 L300.1 185.7 L300.5 183.0 L300.9 180.4 L301.3 177.7 L301.6 175.0 L302.0 172.3 L302.3 169.6 L302.6 167.0 L303.0 164.3 L303.3 161.6 L303.6 158.9 L303.9 156.2 L304.2 153.6 L304.5 150.9 L304.7 148.2 L305.0 145.5 L305.3 142.8 L305.5 140.1 L305.8 137.4 L306.0 134.8 L306.2 132.1 L306.4 129.4 L306.7 126.7 L306.9 124.0 L307.1 121.3 L307.3 118.6 L307.4 115.9 L307.6 113.3 L307.8 110.6 L307.9 107.9 L308.1 105.2 L308.2 102.5 L308.4 99.8 L308.5 97.1 L308.6 94.4 L308.7 91.7 L308.9 89.1 L309.0 86.4 L309.1 83.7 L309.2 81.0 L309.3 78.3 L309.4 75.6 L309.4 72.9 L309.5 70.2 L309.6 67.6 L309.7 64.9 L309.7 62.2 L309.8 59.5 L309.9 56.8 L309.9 54.1 L310.0 51.4 L310.0 48.7 L310.1 46.1 L310.1 43.4 L310.1 40.7 L310.2 38.0 M271.0 439.8 L271.2 435.7 L271.5 431.6 L271.9 427.6 L272.4 423.5 L272.9 419.5 L273.5 415.4 L274.1 411.4 L274.8 407.4 L275.5 403.4 L276.2 399.3 L276.9 395.3 L277.7 391.3 L278.5 387.3 L279.3 383.3 L280.1 379.3 L280.9 375.3 L281.7 371.3 L282.5 367.3 L283.2 363.3 L284.0 359.2 L284.8 355.2 L285.5 351.2 L286.3 347.2 L287.0 343.2 L287.7 339.1 L288.4 335.1 L289.1 331.1 L289.8 327.0 L290.4 323.0 L291.1 319.0 L291.7 314.9 L292.4 310.9 L293.0 306.9 L293.6 302.8 L294.2 298.8 L294.8 294.7 L295.4 290.7 L295.9 286.6 L296.5 282.6 L297.1 278.5 L297.6 274.5 L298.1 270.4 L298.7 266.4 L299.2 262.3 L299.7 258.2 L300.2 254.2 L300.6 250.1 L301.1 246.1 L301.6 242.0 L302.0 237.9 L302.5 233.9 L302.9 229.8 L303.3 225.7 L303.7 221.7 L304.2 217.6 L304.5 213.5 L304.9 209.5 L305.3 205.4 L305.7 201.3 L306.1 197.3 L306.5 193.2 L306.8 189.1 L307.2 185.0 L307.5 181.0 L307.9 176.9 L308.2 172.8 L308.5 168.7 L308.7 164.7 L309.0 160.6 L309.2 156.5 L309.5 152.4 L309.7 148.3 L309.9 144.3 L310.0 140.2 L310.2 136.1 L310.3 132.0 L310.5 127.9 L310.6 123.9 L310.7 119.8 L310.8 115.7 L310.9 111.6 L311.0 107.5 L311.0 103.4 L311.1 99.3 L311.1 95.3 L311.1 91.2 L311.2 87.1 L311.2 83.0 L311.2 78.9 L311.2 74.8 L311.2 70.7 L311.1 66.6 L311.1 62.5 L311.1 58.5 L311.0 54.4 L311.0 50.3 L310.9 46.2 L310.9 42.1 L310.8 38.0" stroke="#108ed2"/>
<path d="M58.5 396.4 L179.8 396.4 L180.5 396.4 L181.1 396.4 L181.6 396.4 L182.2 396.4 L182.7 396.4 L183.2 396.4 L183.8 396.4 L184.3 396.4 L184.9 396.4 L185.4 396.4 L186.0 396.4 L186.5 396.4 L187.0 396.4 L187.6 396.4 L188.1 396.4 L188.7 396.4 L189.2 396.4 L189.7 396.4 L190.3 396.4 L190.8 396.4 L191.4 396.4 L191.9 396.4 L192.4 396.4 L193.0 396.4 L193.5 396.4 L194.0 396.4 L194.6 396.4 L195.1 396.4 L195.7 396.4 L196.2 396.4 L196.7 396.4 L197.3 396.4 L197.8 396.4 L198.4 396.4 L198.9 396.4 L199.4 396.4 L200.0 396.4 L200.5 396.4 L201.0 396.4 L201.6 396.4 L202.1 396.4 L202.7 396.4 L203.2 396.4 L203.7 396.4 L204.3 396.4 L204.8 396.4 L205.3 396.4 L205.9 396.4 L206.4 396.4 L207.0 396.4 L207.5 396.4 L208.0 396.4 L208.6 396.4 L209.1 396.4 L209.7 396.4 L210.2 396.4 L210.7 396.4 L211.3 396.4 L211.8 396.4 L212.4 396.4 L212.9 396.4 L213.4 396.4 L214.0 396.4 L214.5 396.4 L215.1 396.4 L215.6 396.4 L216.1 396.4 L216.7 396.4 L217.2 396.4 L217.8 396.4 L218.3 396.4 L218.9 396.4 L219.4 396.4 L219.9 396.4 L220.5 396.4 L221.0 396.4 L221.6 396.4 L222.1 396.4 L222.7 396.3 L223.2 396.3 L223.8 396.3 L224.3 396.3 L224.8 396.3 L225.4 396.3 L225.9 396.3 L226.5 396.3 L227.0 396.2 L227.6 396.2 L228.1 396.2 L228.7 396.2 L229.2 396.2 L229.8 396.1 L230.3 396.1 L230.8 396.1 L231.4 396.0 L231.9 396.0 L232.5 396.0 L233.0 395.9 L233.6 395.9 L234.1 395.8 L234.6 395.8 L235.2 395.7 L235.7 395.7 L236.3 395.7 L236.8 395.6 L237.3 395.6 L237.9 395.5 L238.4 395.4 L239.0 395.4 L239.5 395.3 L240.0 395.3 L240.6 395.2 L241.1 395.1 L241.6 395.0 L242.2 395.0 L242.7 394.9 L243.2 394.8 L243.8 394.7 L244.3 394.6 L244.8 394.5 L245.4 394.5 L245.9 394.4 L246.4 394.3 L246.9 394.2 L247.5 394.0 L248.0 393.9 L248.5 393.8 L249.0 393.7 L249.6 393.6 L250.1 393.5 L250.6 393.3 L251.1 393.2 L251.6 393.0 L252.1 392.9 L252.7 392.8 L253.2 392.6 L253.7 392.5 L254.2 392.3 L254.7 392.1 L255.2 392.0 L255.7 391.8 L256.2 391.6 L256.7 391.4 L257.2 391.2 L257.7 391.0 L258.2 390.8 L258.7 390.6 L259.2 390.4 L259.7 390.2 L260.2 389.9 L260.7 389.7 L261.1 389.5 L261.6 389.2 L262.1 388.9 L262.5 388.7 L263.0 388.4 L263.5 388.1 L263.9 387.8 L264.4 387.5 L264.8 387.2 L265.2 386.9 L265.7 386.5 L266.1 386.2 L266.5 385.8 L267.0 385.4 L267.4 385.1 L267.8 384.7 L268.2 384.3 L268.6 383.9 L269.0 383.4 L269.4 383.0 L269.7 382.6 L270.1 382.1 L270.5 381.6 L270.8 381.2 L271.2 380.7 L271.6 380.3 L271.9 380.0 L272.2 379.7 L272.6 379.5 L272.9 379.5 L273.2 379.6 L273.5 379.8 L273.7 380.1 L273.9 380.6 L274.0 381.1 L274.0 381.7 L274.0 382.3 L274.0 383.0 L274.0 383.6 L273.9 384.2 L273.9 384.8 L273.8 385.3 L273.7 385.9 L273.6 386.4 L273.5 387.0 L273.4 387.5 L273.3 388.0 L273.1 388.5 L273.0 389.0 L272.9 389.5 L272.7 390.0 L272.6 390.5 L272.5 391.0 L272.4 391.6 L272.2 392.1 L272.1 392.6 L272.0 393.1 L271.9 393.6 L271.7 394.1 L271.6 394.6 L271.5 395.2 L271.4 395.7 L271.3 396.2 L271.2 396.7 L271.0 397.3 L270.9 397.8 L270.8 398.3 L270.7 398.9 L270.6 399.4 L270.5 399.9 L270.4 400.5 L270.3 401.0 L270.2 401.5 L270.1 402.1 L270.0 402.6 L269.9 403.2 L269.9 403.7 L269.8 404.2 L269.7 404.8 L269.6 405.3 L269.5 405.8 L269.4 406.4 L269.4 406.9 L269.3 407.5 L269.2 408.0 L269.1 408.5 L269.1 409.1 L269.0 409.6 L268.9 410.1 L268.9 410.7 L268.8 411.2 L268.8 411.8 L268.7 412.3 L268.6 412.8 L268.6 413.4 L268.5 413.9 L268.5 414.4 L268.4 415.0 L268.4 415.5 L268.3 416.1 L268.3 416.6 L268.2 417.1 L268.2 417.7 L268.2 418.2 L268.1 418.7 L268.1 419.3 L268.0 419.8 L268.0 420.4 L268.0 420.9 L267.9 421.4 L267.9 422.0 L267.9 422.5 L267.8 423.1 L267.8 423.6 L267.8 424.1 L267.7 424.7 L267.7 425.2 L267.7 425.7 L267.7 426.3 L267.6 426.8 L267.6 427.4 L267.6 427.9 L267.6 428.4 L267.5 429.0 L267.5 429.5 L267.5 430.1 L267.5 430.6 L267.5 431.1 L267.4 431.7 L267.4 432.2 L267.4 432.8 L267.4 433.3 L267.4 433.8 L267.3 434.4 L267.3 434.9 L267.3 435.5 L267.3 436.0 L267.3 436.5 L267.3 437.1 L267.3 437.6 L267.2 438.2 L267.2 438.7 L267.2 439.3 L267.2 439.8 M283.4 337.0 L283.9 333.2 L284.4 329.5 L284.9 325.7 L285.4 321.9 L285.8 318.2 L286.3 314.4 L286.8 310.6 L287.3 306.8 L287.8 303.1 L288.3 299.3 L288.7 295.5 L289.2 291.8 L289.7 288.0 L290.2 284.2 L290.6 280.4 L291.1 276.7 L291.6 272.9 L292.0 269.1 L292.5 265.3 L292.9 261.6 L293.4 257.8 L293.9 254.0 L294.3 250.2 L294.7 246.5 L295.2 242.7 L295.6 238.9 L296.1 235.1 L296.5 231.4 L296.9 227.6 L297.3 223.8 L297.7 220.0 L298.2 216.2 L298.6 212.5 L299.0 208.7 L299.4 204.9 L299.8 201.1 L300.2 197.3 L300.8 193.5 L301.2 189.8 L301.7 186.0 L302.2 182.2 L302.6 178.4 L303.1 174.6 L303.5 170.8 L303.9 167.1 L304.3 163.3 L304.7 159.5 L305.1 155.7 L305.4 151.9 L305.7 148.1 L306.1 144.3 L306.4 140.5 L306.7 136.7 L307.0 133.0 L307.2 129.2 L307.5 125.4 L307.7 121.6 L308.0 117.8 L308.2 114.0 L308.4 110.2 L308.6 106.4 L308.7 102.6 L308.9 98.8 L309.1 95.0 L309.2 91.2 L309.3 87.4 L309.5 83.6 L309.6 79.8 L309.7 76.0 L309.8 72.2 L309.9 68.4 L310.0 64.6 L310.0 60.8 L310.1 57.0 L310.2 53.2 L310.2 49.4 L310.3 45.6 L310.3 41.8 L310.3 38.0 M283.4 337.0 L284.7 333.4 L285.9 329.8 L287.0 326.2 L287.9 322.5 L288.8 318.8 L289.6 315.1 L290.4 311.4 L291.1 307.7 L291.7 303.9 L292.3 300.2 L292.8 296.4 L293.3 292.6 L293.8 288.8 L294.3 285.1 L294.7 281.3 L295.2 277.5 L295.7 273.7 L296.1 269.9 L296.6 266.1 L297.1 262.3 L297.6 258.5 L298.0 254.8 L298.5 251.0 L299.0 247.2 L299.5 243.4 L299.9 239.6 L300.4 235.8 L300.9 232.0 L301.3 228.2 L301.8 224.5 L302.2 220.7 L302.7 216.9 L303.1 213.1 L303.5 209.3 L303.9 205.5 L304.3 201.7 L304.8 197.9 L305.2 194.1 L305.7 190.3 L306.1 186.5 L306.5 182.7 L306.8 178.9 L307.2 175.1 L307.5 171.3 L307.8 167.5 L308.1 163.7 L308.4 159.9 L308.7 156.1 L308.9 152.3 L309.2 148.5 L309.4 144.7 L309.6 140.9 L309.8 137.1 L309.9 133.3 L310.1 129.5 L310.2 125.7 L310.4 121.9 L310.5 118.1 L310.6 114.3 L310.7 110.5 L310.8 106.7 L310.8 102.8 L310.9 99.0 L311.0 95.2 L311.0 91.4 L311.0 87.6 L311.1 83.8 L311.1 80.0 L311.1 76.2 L311.1 72.3 L311.1 68.5 L311.1 64.7 L311.0 60.9 L311.0 57.1 L311.0 53.3 L310.9 49.5 L310.9 45.6 L310.8 41.8 L310.8 38.0" stroke="#0faeb9"/>
<path d="M58.5 404.4 L179.8 404.4 L181.6 404.4 L182.6 404.4 L183.5 404.4 L184.5 404.4 L185.4 404.4 L186.4 404.4 L187.4 404.4 L188.3 404.4 L189.3 404.4 L190.2 404.4 L191.2 404.4 L192.1 404.4 L193.1 404.4 L194.1 404.4 L195.0 404.4 L196.0 404.4 L196.9 404.4 L197.9 404.4 L198.8 404.4 L199.8 404.4 L200.8 404.4 L201.7 404.4 L202.7 404.4 L203.6 404.4 L204.6 404.4 L205.5 404.4 L206.5 404.4 L207.5 404.4 L208.4 404.4 L209.4 404.4 L210.3 404.4 L211.3 404.4 L212.2 404.4 L213.2 404.4 L214.2 404.4 L215.1 404.4 L216.1 404.4 L217.0 404.4 L218.0 404.4 L218.9 404.4 L219.9 404.4 L220.9 404.4 L221.8 404.5 L222.8 404.5 L223.7 404.4 L224.7 404.4 L225.6 404.4 L226.6 404.4 L227.5 404.4 L228.5 404.4 L229.5 404.3 L230.4 404.3 L231.4 404.3 L232.3 404.2 L233.3 404.2 L234.2 404.1 L235.2 404.1 L236.1 404.1 L237.1 404.1 L238.1 404.0 L239.0 404.0 L240.0 404.0 L240.9 404.0 L241.9 404.1 L242.8 404.1 L243.8 404.1 L244.8 404.2 L245.7 404.3 L246.7 404.4 L247.6 404.5 L248.6 404.6 L249.6 404.7 L250.5 404.9 L251.5 405.0 L252.4 405.3 L253.4 405.5 L254.3 405.8 L255.2 406.1 L256.0 406.6 L256.8 407.0 L257.5 407.6 L258.2 408.2 L258.8 408.9 L259.3 409.6 L259.8 410.4 L260.3 411.3 L260.7 412.2 L261.0 413.1 L261.3 414.0 L261.6 415.0 L261.9 415.9 L262.1 416.9 L262.3 417.8 L262.5 418.8 L262.6 419.8 L262.7 420.7 L262.8 421.7 L262.9 422.6 L263.0 423.6 L263.0 424.5 L263.0 425.5 L263.1 426.4 L263.1 427.4 L263.1 428.3 L263.1 429.3 L263.1 430.2 L263.1 431.2 L263.1 432.2 L263.1 433.1 L263.1 434.1 L263.1 435.0 L263.2 436.0 L263.2 436.9 L263.3 437.9 L263.3 438.8 L263.4 439.8 M306.1 170.0 L306.3 166.6 L306.6 163.2 L306.8 159.9 L307.1 156.5 L307.3 153.1 L307.5 149.7 L307.7 146.3 L307.9 143.0 L308.0 139.6 L308.2 136.2 L308.3 132.8 L308.5 129.4 L308.6 126.0 L308.7 122.6 L308.8 119.3 L308.9 115.9 L309.0 112.5 L309.1 109.1 L309.2 105.7 L309.3 102.3 L309.4 98.9 L309.4 95.6 L309.5 92.2 L309.6 88.8 L309.6 85.4 L309.7 82.0 L309.8 78.6 L309.8 75.2 L309.9 71.9 L309.9 68.5 L310.0 65.1 L310.0 61.7 L310.1 58.3 L310.2 54.9 L310.2 51.5 L310.3 48.2 L310.4 44.8 L310.4 41.4 L310.5 38.0 M306.1 170.0 L306.6 166.6 L307.1 163.3 L307.6 159.9 L308.0 156.6 L308.4 153.2 L308.7 149.8 L309.0 146.5 L309.3 143.1 L309.5 139.7 L309.7 136.3 L309.9 132.9 L310.0 129.6 L310.2 126.2 L310.3 122.8 L310.4 119.4 L310.5 116.0 L310.5 112.6 L310.6 109.2 L310.6 105.8 L310.6 102.5 L310.7 99.1 L310.7 95.7 L310.7 92.3 L310.7 88.9 L310.7 85.5 L310.7 82.1 L310.6 78.7 L310.6 75.3 L310.6 71.9 L310.6 68.5 L310.6 65.1 L310.6 61.7 L310.6 58.3 L310.6 54.9 L310.6 51.5 L310.6 48.2 L310.6 44.8 L310.7 41.4 L310.7 38.0" stroke="#65be86"/>
<path d="M58.5 413.4 L179.8 413.4 L181.1 413.4 L181.9 413.4 L182.7 413.4 L183.5 413.4 L184.4 413.4 L185.2 413.4 L186.0 413.4 L186.8 413.4 L187.6 413.4 L188.5 413.4 L189.3 413.4 L190.1 413.4 L190.9 413.4 L191.7 413.4 L192.5 413.4 L193.4 413.4 L194.2 413.4 L195.0 413.4 L195.8 413.4 L196.6 413.4 L197.4 413.4 L198.3 413.4 L199.1 413.4 L199.9 413.4 L200.7 413.4 L201.5 413.4 L202.3 413.4 L203.2 413.4 L204.0 413.4 L204.8 413.4 L205.6 413.4 L206.4 413.4 L207.2 413.4 L208.1 413.4 L208.9 413.4 L209.7 413.4 L210.5 413.4 L211.3 413.4 L212.1 413.4 L213.0 413.4 L213.8 413.4 L214.6 413.4 L215.4 413.4 L216.2 413.4 L217.1 413.4 L217.9 413.4 L218.7 413.4 L219.5 413.4 L220.3 413.4 L221.2 413.4 L222.0 413.4 L222.8 413.3 L223.6 413.3 L224.4 413.3 L225.3 413.3 L226.1 413.2 L226.9 413.2 L227.7 413.2 L228.5 413.2 L229.4 413.2 L230.2 413.1 L231.0 413.1 L231.8 413.2 L232.7 413.2 L233.5 413.2 L234.3 413.3 L235.1 413.3 L235.9 413.4 L236.8 413.5 L237.6 413.6 L238.4 413.7 L239.2 413.8 L240.0 414.0 L240.8 414.1 L241.6 414.3 L242.4 414.5 L243.2 414.7 L244.0 415.0 L244.8 415.3 L245.5 415.6 L246.3 415.9 L247.0 416.3 L247.7 416.7 L248.4 417.1 L249.1 417.5 L249.8 418.0 L250.4 418.4 L251.0 419.0 L251.6 419.5 L252.2 420.0 L252.8 420.6 L253.3 421.2 L253.8 421.8 L254.3 422.5 L254.7 423.1 L255.2 423.8 L255.6 424.5 L255.9 425.2 L256.2 426.0 L256.5 426.7 L256.8 427.5 L257.1 428.3 L257.3 429.1 L257.5 429.9 L257.7 430.8 L257.8 431.6 L258.0 432.4 L258.1 433.3 L258.2 434.1 L258.3 434.9 L258.3 435.8 L258.4 436.6 L258.4 437.4 L258.5 438.2 L258.5 439.0 L258.5 439.8 M310.7 64.0 L310.8 61.1 L310.8 58.2 L310.8 55.3 L310.8 52.4 L310.8 49.6 L310.8 46.7 L310.8 43.8 L310.9 40.9 L310.9 38.0 M310.7 64.0 L310.8 61.1 L310.9 58.2 L310.9 55.3 L311.0 52.4 L311.0 49.6 L311.0 46.7 L311.0 43.8 L311.0 40.9 L311.0 38.0" stroke="#c0bc60"/>
<path d="M58.5 423.1 L179.8 423.1 L180.5 423.1 L181.2 423.1 L181.9 423.1 L182.6 423.1 L183.3 423.1 L183.9 423.1 L184.6 423.1 L185.3 423.1 L186.0 423.1 L186.6 423.1 L187.3 423.1 L188.0 423.1 L188.7 423.1 L189.3 423.1 L190.0 423.1 L190.7 423.1 L191.4 423.1 L192.0 423.1 L192.7 423.1 L193.4 423.1 L194.0 423.1 L194.7 423.1 L195.4 423.1 L196.1 423.1 L196.7 423.1 L197.4 423.1 L198.1 423.1 L198.7 423.1 L199.4 423.1 L200.1 423.1 L200.8 423.1 L201.4 423.1 L202.1 423.1 L202.8 423.1 L203.4 423.1 L204.1 423.1 L204.8 423.1 L205.5 423.1 L206.1 423.1 L206.8 423.1 L207.5 423.1 L208.1 423.1 L208.8 423.1 L209.5 423.1 L210.2 423.1 L210.8 423.1 L211.5 423.1 L212.2 423.1 L212.9 423.1 L213.5 423.1 L214.2 423.1 L214.9 423.1 L215.6 423.1 L216.2 423.1 L216.9 423.1 L217.6 423.1 L218.3 423.1 L219.0 423.1 L219.6 423.1 L220.3 423.1 L221.0 423.0 L221.7 423.0 L222.4 423.0 L223.0 423.0 L223.7 423.0 L224.4 423.0 L225.1 423.0 L225.8 423.1 L226.4 423.1 L227.1 423.1 L227.8 423.1 L228.5 423.2 L229.2 423.3 L229.8 423.3 L230.5 423.4 L231.2 423.5 L231.9 423.6 L232.5 423.7 L233.2 423.9 L233.9 424.0 L234.5 424.2 L235.2 424.4 L235.8 424.6 L236.5 424.8 L237.1 425.0 L237.8 425.2 L238.4 425.4 L239.0 425.7 L239.7 426.0 L240.3 426.2 L240.9 426.6 L241.4 426.9 L242.0 427.2 L242.6 427.6 L243.1 427.9 L243.6 428.3 L244.2 428.7 L244.7 429.1 L245.1 429.6 L245.6 430.0 L246.0 430.5 L246.5 431.0 L246.9 431.5 L247.3 432.0 L247.6 432.5 L248.0 433.1 L248.3 433.7 L248.6 434.3 L248.8 434.9 L249.1 435.5 L249.3 436.2 L249.5 436.9 L249.6 437.6 L249.7 438.3 L249.8 439.0 L249.9 439.8 M310.9 52.0 L310.9 48.5 L310.9 45.0 L310.9 41.5 L310.9 38.0 M310.9 52.0 L311.0 48.5 L311.0 45.0 L311.0 41.5 L311.0 38.0" stroke="#ffc337"/>
<path d="M311.0 40.5 L311.0 39.2 L311.0 38.0" stroke="#f9fb0e"/>
<circle cx="282.6" cy="341.2" r="1.4" fill="#0faeb9" stroke="none"/>
<path d="M58.5 360.4 L262.0 360.4 L264.9 360.4 L267.3 360.4 L269.8 360.4 L272.3 360.4 L274.8 360.4 L277.3 360.4 L279.8 360.4 L282.4 360.4 L284.9 360.4 L287.5 360.4 L290.0 360.4 L292.6 360.4 L295.2 360.4 L297.7 360.4 L300.3 360.5 L302.9 360.5 L305.5 360.4 L308.1 360.3 L310.6 360.0 L313.1 359.6 L315.6 359.0 L318.1 358.5 L320.5 357.8 L322.9 357.1 L325.2 356.2 L327.4 355.2 L329.5 354.2 L331.6 353.0 L333.6 351.7 L335.5 350.3 L337.2 348.7 L338.9 347.0 L340.5 345.3 L342.0 343.3 L343.4 341.3 L344.7 339.3 L345.9 337.1 L347.1 334.9 L348.2 332.6 L349.2 330.2 L350.2 327.9 L351.1 325.4 L352.0 323.0 L352.8 320.6 L353.6 318.1 L354.4 315.7 L355.2 313.3 L355.9 310.8 L356.6 308.4 L357.3 306.0 L357.9 303.5 L358.5 301.1 L359.1 298.7 L359.7 296.2 L360.3 293.8 L360.9 291.4 L361.4 288.9 L361.9 286.5 L362.5 284.1 L363.0 281.6 L363.5 279.2 L364.0 276.7 L364.4 274.3 L364.9 271.8 L365.4 269.4 L365.9 266.9 L366.3 264.5 L366.8 262.0 L367.2 259.6 L367.7 257.1 L368.1 254.7 L368.5 252.2 L369.0 249.7 L369.4 247.3 L369.8 244.8 L370.2 242.3 L370.6 239.9 L371.0 237.4 L371.4 234.9 L371.8 232.4 L372.2 230.0 L372.6 227.5 L372.9 225.0 L373.3 222.5 L373.7 220.1 L374.1 217.6 L374.4 215.1 L374.8 212.6 L375.1 210.1 L375.5 207.6 L375.8 205.2 L376.2 202.7 L376.5 200.2 L376.8 197.7 L377.2 195.2 L377.5 192.7 L377.8 190.2 L378.1 187.7 L378.4 185.3 L378.8 182.8 L379.1 180.3 L379.4 177.8 L379.7 175.3 L380.0 172.8 L380.3 170.3 L380.6 167.8 L380.9 165.3 L381.2 162.8 L381.5 160.3 L381.8 157.9 L382.1 155.4 L382.4 152.9 L382.7 150.4 L383.0 147.9 L383.3 145.4 L383.5 142.9 L383.8 140.4 L384.1 137.9 L384.4 135.4 L384.6 132.9 L384.9 130.5 L385.2 128.0 L385.4 125.5 L385.7 123.0 L386.0 120.5 L386.2 118.0 L386.5 115.5 L386.7 113.0 L386.9 110.5 L387.2 108.0 L387.4 105.5 L387.6 103.0 L387.8 100.6 L388.0 98.1 L388.3 95.6 L388.5 93.1 L388.7 90.6 L388.8 88.1 L389.0 85.6 L389.2 83.1 L389.4 80.6 L389.5 78.1 L389.7 75.6 L389.9 73.1 L390.0 70.6 L390.1 68.1 L390.3 65.6 L390.4 63.1 L390.5 60.6 L390.6 58.1 L390.7 55.6 L390.8 53.1 L390.9 50.5 L391.0 48.0 L391.0 45.5 L391.1 43.0 L391.2 40.5 L391.2 38.0 M361.0 439.8 L361.7 435.8 L362.3 431.8 L363.0 427.7 L363.6 423.7 L364.3 419.7 L364.9 415.7 L365.6 411.6 L366.2 407.6 L366.8 403.6 L367.5 399.5 L368.1 395.5 L368.7 391.5 L369.3 387.4 L369.9 383.4 L370.5 379.4 L371.1 375.3 L371.7 371.3 L372.2 367.3 L372.8 363.2 L373.4 359.2 L373.9 355.2 L374.5 351.1 L375.0 347.1 L375.6 343.0 L376.1 339.0 L376.6 334.9 L377.1 330.9 L377.6 326.8 L378.2 322.8 L378.7 318.8 L379.1 314.7 L379.6 310.7 L380.1 306.6 L380.6 302.6 L381.0 298.5 L381.5 294.4 L381.9 290.4 L382.4 286.3 L382.8 282.3 L383.3 278.2 L383.7 274.2 L384.1 270.1 L384.5 266.1 L384.9 262.0 L385.3 257.9 L385.7 253.9 L386.0 249.8 L386.4 245.8 L386.8 241.7 L387.1 237.6 L387.4 233.6 L387.8 229.5 L388.1 225.4 L388.4 221.4 L388.7 217.3 L389.0 213.3 L389.3 209.2 L389.6 205.1 L389.9 201.1 L390.1 197.0 L390.4 192.9 L390.6 188.8 L390.9 184.8 L391.1 180.7 L391.3 176.6 L391.5 172.6 L391.7 168.5 L391.9 164.4 L392.1 160.4 L392.3 156.3 L392.5 152.2 L392.6 148.1 L392.8 144.1 L392.9 140.0 L393.0 135.9 L393.1 131.8 L393.2 127.8 L393.3 123.7 L393.4 119.6 L393.5 115.5 L393.6 111.4 L393.6 107.4 L393.7 103.3 L393.7 99.2 L393.7 95.1 L393.8 91.1 L393.8 87.0 L393.8 82.9 L393.7 78.8 L393.7 74.7 L393.7 70.7 L393.6 66.6 L393.6 62.5 L393.5 58.4 L393.4 54.3 L393.3 50.2 L393.2 46.2 L393.1 42.1 L393.0 38.0" stroke="#352a87"/>
<path d="M58.5 376.2 L262.0 376.2 L264.9 376.2 L267.5 376.2 L270.0 376.2 L272.6 376.2 L275.3 376.2 L277.9 376.2 L280.6 376.2 L283.3 376.2 L286.0 376.2 L288.7 376.2 L291.4 376.2 L294.1 376.2 L296.8 376.2 L299.5 376.3 L302.2 376.3 L304.9 376.3 L307.6 376.2 L310.2 376.0 L312.9 375.7 L315.5 375.3 L318.0 374.7 L320.5 374.1 L323.0 373.4 L325.4 372.5 L327.8 371.5 L330.1 370.5 L332.3 369.2 L334.5 367.9 L336.6 366.5 L338.6 365.0 L340.4 363.3 L342.2 361.5 L343.9 359.7 L345.4 357.7 L346.9 355.6 L348.2 353.4 L349.4 351.1 L350.6 348.8 L351.6 346.4 L352.6 344.0 L353.5 341.5 L354.4 338.9 L355.2 336.4 L355.9 333.8 L356.6 331.2 L357.3 328.6 L357.9 326.0 L358.5 323.4 L359.1 320.8 L359.7 318.2 L360.3 315.6 L360.8 313.0 L361.3 310.4 L361.8 307.8 L362.3 305.2 L362.8 302.7 L363.3 300.1 L363.7 297.5 L364.2 295.0 L364.6 292.4 L365.0 289.8 L365.5 287.3 L365.9 284.7 L366.3 282.1 L366.7 279.6 L367.2 277.0 L367.6 274.4 L368.0 271.9 L368.4 269.3 L368.8 266.7 L369.2 264.2 L369.6 261.6 L370.0 259.0 L370.4 256.4 L370.8 253.9 L371.2 251.3 L371.6 248.7 L372.0 246.1 L372.4 243.5 L372.7 241.0 L373.1 238.4 L373.5 235.8 L373.9 233.2 L374.2 230.6 L374.6 228.0 L375.0 225.5 L375.3 222.9 L375.7 220.3 L376.1 217.7 L376.4 215.1 L376.8 212.5 L377.1 209.9 L377.5 207.3 L377.8 204.7 L378.1 202.1 L378.5 199.5 L378.8 197.0 L379.1 194.4 L379.5 191.8 L379.8 189.2 L380.1 186.6 L380.4 184.0 L380.7 181.4 L381.0 178.8 L381.3 176.2 L381.6 173.6 L381.9 171.0 L382.2 168.4 L382.5 165.8 L382.8 163.2 L383.1 160.6 L383.4 158.0 L383.6 155.4 L383.9 152.8 L384.2 150.1 L384.4 147.5 L384.7 144.9 L384.9 142.3 L385.2 139.7 L385.4 137.1 L385.7 134.5 L385.9 131.9 L386.2 129.3 L386.4 126.7 L386.6 124.1 L386.8 121.5 L387.1 118.9 L387.3 116.3 L387.5 113.7 L387.7 111.0 L387.9 108.4 L388.1 105.8 L388.3 103.2 L388.4 100.6 L388.6 98.0 L388.8 95.4 L389.0 92.8 L389.1 90.2 L389.3 87.6 L389.5 85.0 L389.6 82.3 L389.8 79.7 L389.9 77.1 L390.0 74.5 L390.2 71.9 L390.3 69.3 L390.4 66.7 L390.5 64.1 L390.6 61.5 L390.7 58.9 L390.8 56.3 L390.9 53.6 L391.0 51.0 L391.1 48.4 L391.2 45.8 L391.3 43.2 L391.3 40.6 L391.4 38.0 M356.8 439.8 L357.2 435.7 L357.6 431.7 L358.2 427.6 L358.7 423.6 L359.3 419.6 L360.0 415.6 L360.6 411.5 L361.3 407.5 L362.0 403.5 L362.7 399.5 L363.4 395.4 L364.1 391.4 L364.8 387.4 L365.5 383.4 L366.2 379.4 L366.9 375.3 L367.6 371.3 L368.3 367.3 L369.0 363.3 L369.6 359.2 L370.3 355.2 L371.0 351.2 L371.6 347.2 L372.3 343.1 L372.9 339.1 L373.5 335.1 L374.2 331.0 L374.8 327.0 L375.4 322.9 L376.0 318.9 L376.6 314.9 L377.1 310.8 L377.7 306.8 L378.3 302.7 L378.8 298.7 L379.4 294.6 L379.9 290.6 L380.4 286.5 L380.9 282.5 L381.4 278.4 L381.9 274.4 L382.4 270.3 L382.9 266.3 L383.3 262.2 L383.8 258.2 L384.2 254.1 L384.6 250.0 L385.1 246.0 L385.5 241.9 L385.9 237.8 L386.3 233.8 L386.6 229.7 L387.0 225.6 L387.4 221.6 L387.7 217.5 L388.0 213.4 L388.4 209.4 L388.7 205.3 L389.0 201.2 L389.3 197.2 L389.6 193.1 L389.8 189.0 L390.1 184.9 L390.3 180.9 L390.6 176.8 L390.8 172.7 L391.0 168.6 L391.2 164.6 L391.4 160.5 L391.6 156.4 L391.8 152.3 L392.0 148.2 L392.2 144.2 L392.3 140.1 L392.4 136.0 L392.6 131.9 L392.7 127.8 L392.8 123.8 L392.9 119.7 L393.0 115.6 L393.1 111.5 L393.2 107.4 L393.2 103.4 L393.3 99.3 L393.3 95.2 L393.3 91.1 L393.4 87.0 L393.4 82.9 L393.4 78.8 L393.4 74.8 L393.4 70.7 L393.3 66.6 L393.3 62.5 L393.3 58.4 L393.2 54.3 L393.1 50.3 L393.1 46.2 L393.0 42.1 L392.9 38.0" stroke="#0268e1"/>
<path d="M58.5 386.6 L262.0 386.6 L265.4 386.6 L268.1 386.6 L270.8 386.6 L273.5 386.6 L276.1 386.6 L278.8 386.6 L281.5 386.6 L284.1 386.6 L286.8 386.6 L289.5 386.6 L292.2 386.6 L294.9 386.6 L297.6 386.6 L300.4 386.7 L303.1 386.7 L305.9 386.8 L308.7 386.8 L311.5 386.6 L314.2 386.4 L317.0 386.1 L319.7 385.7 L322.3 385.1 L324.9 384.5 L327.4 383.7 L329.9 382.7 L332.2 381.7 L334.5 380.4 L336.7 379.0 L338.7 377.4 L340.6 375.6 L342.5 373.8 L344.2 371.8 L345.8 369.7 L347.3 367.5 L348.7 365.3 L350.0 362.9 L351.2 360.6 L352.4 358.2 L353.4 355.7 L354.4 353.2 L355.3 350.6 L356.1 348.0 L356.9 345.4 L357.7 342.8 L358.4 340.1 L359.0 337.4 L359.7 334.8 L360.3 332.1 L360.9 329.4 L361.4 326.7 L362.0 324.1 L362.5 321.4 L363.0 318.7 L363.5 316.1 L364.0 313.4 L364.5 310.8 L365.0 308.1 L365.4 305.5 L365.9 302.8 L366.3 300.2 L366.7 297.5 L367.1 294.9 L367.6 292.2 L368.0 289.6 L368.4 286.9 L368.8 284.3 L369.2 281.6 L369.6 279.0 L370.0 276.3 L370.3 273.7 L370.7 271.0 L371.1 268.4 L371.5 265.7 L371.9 263.1 L372.3 260.4 L372.6 257.8 L373.0 255.1 L373.4 252.5 L373.7 249.8 L374.1 247.1 L374.5 244.5 L374.8 241.8 L375.2 239.2 L375.6 236.5 L375.9 233.8 L376.3 231.2 L376.6 228.5 L377.0 225.8 L377.3 223.2 L377.6 220.5 L378.0 217.8 L378.3 215.2 L378.7 212.5 L379.0 209.8 L379.3 207.1 L379.6 204.5 L379.9 201.8 L380.3 199.1 L380.6 196.4 L380.9 193.8 L381.2 191.1 L381.5 188.4 L381.8 185.7 L382.1 183.0 L382.4 180.4 L382.7 177.7 L383.0 175.0 L383.2 172.3 L383.5 169.6 L383.8 167.0 L384.1 164.3 L384.3 161.6 L384.6 158.9 L384.8 156.2 L385.1 153.6 L385.4 150.9 L385.6 148.2 L385.8 145.5 L386.1 142.8 L386.3 140.1 L386.5 137.4 L386.8 134.8 L387.0 132.1 L387.2 129.4 L387.4 126.7 L387.6 124.0 L387.8 121.3 L388.0 118.6 L388.2 115.9 L388.4 113.3 L388.6 110.6 L388.8 107.9 L388.9 105.2 L389.1 102.5 L389.3 99.8 L389.4 97.1 L389.6 94.4 L389.7 91.7 L389.9 89.1 L390.0 86.4 L390.2 83.7 L390.3 81.0 L390.4 78.3 L390.5 75.6 L390.6 72.9 L390.7 70.2 L390.9 67.6 L390.9 64.9 L391.0 62.2 L391.1 59.5 L391.2 56.8 L391.3 54.1 L391.3 51.4 L391.4 48.7 L391.5 46.1 L391.5 43.4 L391.6 40.7 L391.6 38.0 M353.2 439.8 L353.4 435.7 L353.7 431.6 L354.1 427.6 L354.6 423.5 L355.1 419.5 L355.7 415.4 L356.3 411.4 L357.0 407.4 L357.7 403.4 L358.4 399.3 L359.1 395.3 L359.9 391.3 L360.7 387.3 L361.5 383.3 L362.3 379.3 L363.1 375.3 L363.9 371.3 L364.7 367.3 L365.4 363.3 L366.2 359.2 L367.0 355.2 L367.7 351.2 L368.5 347.2 L369.2 343.2 L369.9 339.1 L370.6 335.1 L371.3 331.1 L372.0 327.0 L372.6 323.0 L373.3 319.0 L373.9 314.9 L374.6 310.9 L375.2 306.9 L375.8 302.8 L376.4 298.8 L377.0 294.7 L377.6 290.7 L378.1 286.6 L378.7 282.6 L379.3 278.5 L379.8 274.5 L380.3 270.4 L380.9 266.4 L381.4 262.3 L381.9 258.2 L382.4 254.2 L382.8 250.1 L383.3 246.1 L383.8 242.0 L384.2 237.9 L384.7 233.9 L385.1 229.8 L385.5 225.7 L385.9 221.7 L386.4 217.6 L386.7 213.5 L387.1 209.5 L387.5 205.4 L387.9 201.3 L388.2 197.3 L388.6 193.2 L388.9 189.1 L389.2 185.0 L389.5 181.0 L389.8 176.9 L390.1 172.8 L390.4 168.7 L390.6 164.7 L390.9 160.6 L391.1 156.5 L391.4 152.4 L391.6 148.3 L391.8 144.3 L392.0 140.2 L392.2 136.1 L392.3 132.0 L392.5 127.9 L392.6 123.9 L392.8 119.8 L392.9 115.7 L393.0 111.6 L393.1 107.5 L393.2 103.4 L393.3 99.3 L393.3 95.3 L393.4 91.2 L393.4 87.1 L393.4 83.0 L393.4 78.9 L393.4 74.8 L393.4 70.7 L393.4 66.6 L393.3 62.5 L393.3 58.5 L393.2 54.4 L393.1 50.3 L393.0 46.2 L392.9 42.1 L392.8 38.0" stroke="#108ed2"/>
<path d="M58.5 396.4 L262.0 396.4 L262.7 396.4 L263.3 396.4 L263.8 396.4 L264.4 396.4 L264.9 396.4 L265.4 396.4 L266.0 396.4 L266.5 396.4 L267.1 396.4 L267.6 396.4 L268.2 396.4 L268.7 396.4 L269.2 396.4 L269.8 396.4 L270.3 396.4 L270.9 396.4 L271.4 396.4 L271.9 396.4 L272.5 396.4 L273.0 396.4 L273.6 396.4 L274.1 396.4 L274.6 396.4 L275.2 396.4 L275.7 396.4 L276.2 396.4 L276.8 396.4 L277.3 396.4 L277.9 396.4 L278.4 396.4 L278.9 396.4 L279.5 396.4 L280.0 396.4 L280.6 396.4 L281.1 396.4 L281.6 396.4 L282.2 396.4 L282.7 396.4 L283.2 396.4 L283.8 396.4 L284.3 396.4 L284.9 396.4 L285.4 396.4 L285.9 396.4 L286.5 396.4 L287.0 396.4 L287.5 396.4 L288.1 396.4 L288.6 396.4 L289.2 396.4 L289.7 396.4 L290.2 396.4 L290.8 396.4 L291.3 396.4 L291.9 396.4 L292.4 396.4 L292.9 396.4 L293.5 396.4 L294.0 396.4 L294.6 396.4 L295.1 396.4 L295.6 396.4 L296.2 396.4 L296.7 396.4 L297.3 396.4 L297.8 396.4 L298.3 396.4 L298.9 396.4 L299.4 396.4 L300.0 396.4 L300.5 396.4 L301.1 396.4 L301.6 396.4 L302.1 396.4 L302.7 396.4 L303.2 396.4 L303.8 396.4 L304.3 396.4 L304.9 396.3 L305.4 396.3 L306.0 396.3 L306.5 396.3 L307.0 396.3 L307.6 396.3 L308.1 396.3 L308.7 396.3 L309.2 396.2 L309.8 396.2 L310.3 396.2 L310.9 396.2 L311.4 396.2 L312.0 396.1 L312.5 396.1 L313.0 396.1 L313.6 396.0 L314.1 396.0 L314.7 396.0 L315.2 395.9 L315.8 395.9 L316.3 395.8 L316.8 395.8 L317.4 395.7 L317.9 395.7 L318.5 395.7 L319.0 395.6 L319.5 395.6 L320.1 395.5 L320.6 395.4 L321.2 395.4 L321.7 395.3 L322.2 395.3 L322.8 395.2 L323.3 395.1 L323.8 395.0 L324.4 395.0 L324.9 394.9 L325.4 394.8 L326.0 394.7 L326.5 394.6 L327.0 394.5 L327.6 394.5 L328.1 394.4 L328.6 394.3 L329.1 394.2 L329.7 394.0 L330.2 393.9 L330.7 393.8 L331.2 393.7 L331.8 393.6 L332.3 393.5 L332.8 393.3 L333.3 393.2 L333.8 393.0 L334.3 392.9 L334.9 392.8 L335.4 392.6 L335.9 392.5 L336.4 392.3 L336.9 392.1 L337.4 392.0 L337.9 391.8 L338.4 391.6 L338.9 391.4 L339.4 391.2 L339.9 391.0 L340.4 390.8 L340.9 390.6 L341.4 390.4 L341.9 390.2 L342.4 389.9 L342.9 389.7 L343.3 389.5 L343.8 389.2 L344.3 388.9 L344.7 388.7 L345.2 388.4 L345.7 388.1 L346.1 387.8 L346.6 387.5 L347.0 387.2 L347.4 386.9 L347.9 386.5 L348.3 386.2 L348.7 385.8 L349.2 385.4 L349.6 385.1 L350.0 384.7 L350.4 384.3 L350.8 383.9 L351.2 383.4 L351.6 383.0 L351.9 382.6 L352.3 382.1 L352.7 381.6 L353.0 381.2 L353.4 380.7 L353.8 380.3 L354.1 380.0 L354.4 379.7 L354.8 379.5 L355.1 379.5 L355.4 379.6 L355.7 379.8 L355.9 380.1 L356.1 380.6 L356.2 381.1 L356.2 381.7 L356.2 382.3 L356.2 383.0 L356.2 383.6 L356.1 384.2 L356.1 384.8 L356.0 385.3 L355.9 385.9 L355.8 386.4 L355.7 387.0 L355.6 387.5 L355.5 388.0 L355.3 388.5 L355.2 389.0 L355.1 389.5 L354.9 390.0 L354.8 390.5 L354.7 391.0 L354.6 391.6 L354.4 392.1 L354.3 392.6 L354.2 393.1 L354.1 393.6 L353.9 394.1 L353.8 394.6 L353.7 395.2 L353.6 395.7 L353.5 396.2 L353.4 396.7 L353.2 397.3 L353.1 397.8 L353.0 398.3 L352.9 398.9 L352.8 399.4 L352.7 399.9 L352.6 400.5 L352.5 401.0 L352.4 401.5 L352.3 402.1 L352.2 402.6 L352.1 403.2 L352.1 403.7 L352.0 404.2 L351.9 404.8 L351.8 405.3 L351.7 405.8 L351.6 406.4 L351.6 406.9 L351.5 407.5 L351.4 408.0 L351.3 408.5 L351.3 409.1 L351.2 409.6 L351.1 410.1 L351.1 410.7 L351.0 411.2 L351.0 411.8 L350.9 412.3 L350.8 412.8 L350.8 413.4 L350.7 413.9 L350.7 414.4 L350.6 415.0 L350.6 415.5 L350.5 416.1 L350.5 416.6 L350.4 417.1 L350.4 417.7 L350.4 418.2 L350.3 418.7 L350.3 419.3 L350.2 419.8 L350.2 420.4 L350.2 420.9 L350.1 421.4 L350.1 422.0 L350.1 422.5 L350.0 423.1 L350.0 423.6 L350.0 424.1 L349.9 424.7 L349.9 425.2 L349.9 425.7 L349.9 426.3 L349.8 426.8 L349.8 427.4 L349.8 427.9 L349.8 428.4 L349.7 429.0 L349.7 429.5 L349.7 430.1 L349.7 430.6 L349.7 431.1 L349.6 431.7 L349.6 432.2 L349.6 432.8 L349.6 433.3 L349.6 433.8 L349.5 434.4 L349.5 434.9 L349.5 435.5 L349.5 436.0 L349.5 436.5 L349.5 437.1 L349.5 437.6 L349.4 438.2 L349.4 438.7 L349.4 439.3 L349.4 439.8 M365.6 337.0 L366.1 333.2 L366.6 329.5 L367.1 325.7 L367.6 321.9 L368.0 318.2 L368.5 314.4 L369.0 310.6 L369.5 306.8 L370.0 303.1 L370.5 299.3 L370.9 295.5 L371.4 291.8 L371.9 288.0 L372.4 284.2 L372.8 280.4 L373.3 276.7 L373.8 272.9 L374.2 269.1 L374.7 265.3 L375.1 261.6 L375.6 257.8 L376.1 254.0 L376.5 250.2 L376.9 246.5 L377.4 242.7 L377.8 238.9 L378.3 235.1 L378.7 231.4 L379.1 227.6 L379.5 223.8 L379.9 220.0 L380.4 216.2 L380.8 212.5 L381.2 208.7 L381.6 204.9 L382.0 201.1 L382.3 197.3 L382.7 193.5 L383.1 189.8 L383.5 186.0 L383.8 182.2 L384.2 178.4 L384.5 174.6 L384.9 170.8 L385.2 167.1 L385.6 163.3 L385.9 159.5 L386.2 155.7 L386.5 151.9 L386.8 148.1 L387.1 144.3 L387.4 140.5 L387.7 136.7 L388.0 133.0 L388.2 129.2 L388.5 125.4 L388.7 121.6 L389.0 117.8 L389.2 114.0 L389.4 110.2 L389.7 106.4 L389.9 102.6 L390.1 98.8 L390.3 95.0 L390.4 91.2 L390.6 87.4 L390.8 83.6 L390.9 79.8 L391.1 76.0 L391.2 72.2 L391.3 68.4 L391.4 64.6 L391.5 60.8 L391.6 57.0 L391.7 53.2 L391.8 49.4 L391.8 45.6 L391.9 41.8 L391.9 38.0 M365.6 337.0 L366.9 333.4 L368.1 329.8 L369.2 326.2 L370.1 322.5 L371.0 318.8 L371.8 315.1 L372.6 311.4 L373.3 307.7 L373.9 303.9 L374.5 300.2 L375.0 296.4 L375.5 292.6 L376.0 288.8 L376.5 285.1 L376.9 281.3 L377.4 277.5 L377.9 273.7 L378.3 269.9 L378.8 266.1 L379.3 262.3 L379.8 258.5 L380.2 254.8 L380.7 251.0 L381.2 247.2 L381.7 243.4 L382.1 239.6 L382.6 235.8 L383.1 232.0 L383.5 228.2 L384.0 224.5 L384.4 220.7 L384.9 216.9 L385.3 213.1 L385.7 209.3 L386.1 205.5 L386.5 201.7 L386.9 197.9 L387.3 194.1 L387.7 190.3 L388.0 186.5 L388.4 182.7 L388.7 178.9 L389.0 175.1 L389.3 171.3 L389.6 167.5 L389.9 163.7 L390.2 159.9 L390.5 156.1 L390.7 152.3 L391.0 148.5 L391.2 144.7 L391.4 140.9 L391.6 137.1 L391.8 133.3 L392.0 129.5 L392.2 125.7 L392.3 121.9 L392.5 118.1 L392.6 114.3 L392.7 110.5 L392.8 106.7 L392.9 102.8 L393.0 99.0 L393.1 95.2 L393.2 91.4 L393.2 87.6 L393.2 83.8 L393.3 80.0 L393.3 76.2 L393.3 72.3 L393.3 68.5 L393.2 64.7 L393.2 60.9 L393.1 57.1 L393.1 53.3 L393.0 49.5 L392.9 45.6 L392.8 41.8 L392.7 38.0" stroke="#0faeb9"/>
<path d="M58.5 404.4 L262.0 404.4 L263.8 404.4 L264.8 404.4 L265.7 404.4 L266.7 404.4 L267.6 404.4 L268.6 404.4 L269.6 404.4 L270.5 404.4 L271.5 404.4 L272.4 404.4 L273.4 404.4 L274.3 404.4 L275.3 404.4 L276.3 404.4 L277.2 404.4 L278.2 404.4 L279.1 404.4 L280.1 404.4 L281.0 404.4 L282.0 404.4 L283.0 404.4 L283.9 404.4 L284.9 404.4 L285.8 404.4 L286.8 404.4 L287.7 404.4 L288.7 404.4 L289.7 404.4 L290.6 404.4 L291.6 404.4 L292.5 404.4 L293.5 404.4 L294.4 404.4 L295.4 404.4 L296.4 404.4 L297.3 404.4 L298.3 404.4 L299.2 404.4 L300.2 404.4 L301.1 404.4 L302.1 404.4 L303.1 404.4 L304.0 404.5 L305.0 404.5 L305.9 404.4 L306.9 404.4 L307.8 404.4 L308.8 404.4 L309.7 404.4 L310.7 404.4 L311.7 404.3 L312.6 404.3 L313.6 404.3 L314.5 404.2 L315.5 404.2 L316.4 404.1 L317.4 404.1 L318.3 404.1 L319.3 404.1 L320.3 404.0 L321.2 404.0 L322.2 404.0 L323.1 404.0 L324.1 404.1 L325.0 404.1 L326.0 404.1 L327.0 404.2 L327.9 404.3 L328.9 404.4 L329.8 404.5 L330.8 404.6 L331.8 404.7 L332.7 404.9 L333.7 405.0 L334.6 405.3 L335.6 405.5 L336.5 405.8 L337.4 406.1 L338.2 406.6 L339.0 407.0 L339.7 407.6 L340.4 408.2 L341.0 408.9 L341.5 409.6 L342.0 410.4 L342.5 411.3 L342.9 412.2 L343.2 413.1 L343.5 414.0 L343.8 415.0 L344.1 415.9 L344.3 416.9 L344.5 417.8 L344.7 418.8 L344.8 419.8 L344.9 420.7 L345.0 421.7 L345.1 422.6 L345.2 423.6 L345.2 424.5 L345.2 425.5 L345.3 426.4 L345.3 427.4 L345.3 428.3 L345.3 429.3 L345.3 430.2 L345.3 431.2 L345.3 432.2 L345.3 433.1 L345.3 434.1 L345.3 435.0 L345.4 436.0 L345.4 436.9 L345.5 437.9 L345.5 438.8 L345.6 439.8 M387.7 170.0 L387.9 166.6 L388.2 163.2 L388.4 159.9 L388.6 156.5 L388.8 153.1 L389.0 149.7 L389.1 146.3 L389.3 143.0 L389.4 139.6 L389.6 136.2 L389.7 132.8 L389.9 129.4 L390.0 126.0 L390.1 122.6 L390.2 119.3 L390.3 115.9 L390.4 112.5 L390.5 109.1 L390.6 105.7 L390.7 102.3 L390.7 98.9 L390.8 95.6 L390.9 92.2 L391.0 88.8 L391.0 85.4 L391.1 82.0 L391.2 78.6 L391.2 75.2 L391.3 71.9 L391.4 68.5 L391.5 65.1 L391.5 61.7 L391.6 58.3 L391.7 54.9 L391.8 51.5 L391.9 48.2 L392.0 44.8 L392.1 41.4 L392.2 38.0 M387.7 170.0 L388.2 166.6 L388.8 163.3 L389.2 159.9 L389.7 156.6 L390.0 153.2 L390.4 149.8 L390.7 146.5 L391.0 143.1 L391.3 139.7 L391.5 136.3 L391.7 132.9 L391.9 129.6 L392.1 126.2 L392.2 122.8 L392.3 119.4 L392.4 116.0 L392.5 112.6 L392.5 109.2 L392.6 105.8 L392.6 102.5 L392.6 99.1 L392.6 95.7 L392.6 92.3 L392.6 88.9 L392.6 85.5 L392.6 82.1 L392.6 78.7 L392.6 75.3 L392.5 71.9 L392.5 68.5 L392.5 65.1 L392.5 61.7 L392.5 58.3 L392.5 54.9 L392.5 51.5 L392.5 48.2 L392.5 44.8 L392.5 41.4 L392.6 38.0" stroke="#65be86"/>
<path d="M58.5 413.4 L262.0 413.4 L263.3 413.4 L264.1 413.4 L264.9 413.4 L265.7 413.4 L266.6 413.4 L267.4 413.4 L268.2 413.4 L269.0 413.4 L269.8 413.4 L270.7 413.4 L271.5 413.4 L272.3 413.4 L273.1 413.4 L273.9 413.4 L274.7 413.4 L275.6 413.4 L276.4 413.4 L277.2 413.4 L278.0 413.4 L278.8 413.4 L279.6 413.4 L280.5 413.4 L281.3 413.4 L282.1 413.4 L282.9 413.4 L283.7 413.4 L284.5 413.4 L285.4 413.4 L286.2 413.4 L287.0 413.4 L287.8 413.4 L288.6 413.4 L289.4 413.4 L290.3 413.4 L291.1 413.4 L291.9 413.4 L292.7 413.4 L293.5 413.4 L294.3 413.4 L295.2 413.4 L296.0 413.4 L296.8 413.4 L297.6 413.4 L298.4 413.4 L299.3 413.4 L300.1 413.4 L300.9 413.4 L301.7 413.4 L302.5 413.4 L303.4 413.4 L304.2 413.4 L305.0 413.3 L305.8 413.3 L306.6 413.3 L307.5 413.3 L308.3 413.2 L309.1 413.2 L309.9 413.2 L310.7 413.2 L311.6 413.2 L312.4 413.1 L313.2 413.1 L314.0 413.2 L314.9 413.2 L315.7 413.2 L316.5 413.3 L317.3 413.3 L318.1 413.4 L319.0 413.5 L319.8 413.6 L320.6 413.7 L321.4 413.8 L322.2 414.0 L323.0 414.1 L323.8 414.3 L324.6 414.5 L325.4 414.7 L326.2 415.0 L327.0 415.3 L327.7 415.6 L328.5 415.9 L329.2 416.3 L329.9 416.7 L330.6 417.1 L331.3 417.5 L332.0 418.0 L332.6 418.4 L333.2 419.0 L333.8 419.5 L334.4 420.0 L335.0 420.6 L335.5 421.2 L336.0 421.8 L336.5 422.5 L336.9 423.1 L337.4 423.8 L337.8 424.5 L338.1 425.2 L338.4 426.0 L338.7 426.7 L339.0 427.5 L339.3 428.3 L339.5 429.1 L339.7 429.9 L339.9 430.8 L340.0 431.6 L340.2 432.4 L340.3 433.3 L340.4 434.1 L340.5 434.9 L340.5 435.8 L340.6 436.6 L340.6 437.4 L340.7 438.2 L340.7 439.0 L340.7 439.8 M392.7 64.0 L392.7 61.1 L392.7 58.2 L392.8 55.3 L392.8 52.4 L392.8 49.6 L392.8 46.7 L392.9 43.8 L392.9 40.9 L392.9 38.0 M392.7 64.0 L392.8 61.1 L392.9 58.2 L393.0 55.3 L393.1 52.4 L393.1 49.6 L393.1 46.7 L393.2 43.8 L393.2 40.9 L393.2 38.0" stroke="#c0bc60"/>
<path d="M58.5 423.1 L262.0 423.1 L262.7 423.1 L263.4 423.1 L264.1 423.1 L264.8 423.1 L265.5 423.1 L266.1 423.1 L266.8 423.1 L267.5 423.1 L268.2 423.1 L268.8 423.1 L269.5 423.1 L270.2 423.1 L270.9 423.1 L271.5 423.1 L272.2 423.1 L272.9 423.1 L273.6 423.1 L274.2 423.1 L274.9 423.1 L275.6 423.1 L276.2 423.1 L276.9 423.1 L277.6 423.1 L278.3 423.1 L278.9 423.1 L279.6 423.1 L280.3 423.1 L280.9 423.1 L281.6 423.1 L282.3 423.1 L283.0 423.1 L283.6 423.1 L284.3 423.1 L285.0 423.1 L285.6 423.1 L286.3 423.1 L287.0 423.1 L287.7 423.1 L288.3 423.1 L289.0 423.1 L289.7 423.1 L290.3 423.1 L291.0 423.1 L291.7 423.1 L292.4 423.1 L293.0 423.1 L293.7 423.1 L294.4 423.1 L295.1 423.1 L295.7 423.1 L296.4 423.1 L297.1 423.1 L297.8 423.1 L298.4 423.1 L299.1 423.1 L299.8 423.1 L300.5 423.1 L301.2 423.1 L301.8 423.1 L302.5 423.1 L303.2 423.0 L303.9 423.0 L304.6 423.0 L305.2 423.0 L305.9 423.0 L306.6 423.0 L307.3 423.0 L308.0 423.1 L308.6 423.1 L309.3 423.1 L310.0 423.1 L310.7 423.2 L311.4 423.3 L312.0 423.3 L312.7 423.4 L313.4 423.5 L314.1 423.6 L314.7 423.7 L315.4 423.9 L316.1 424.0 L316.7 424.2 L317.4 424.4 L318.0 424.6 L318.7 424.8 L319.3 425.0 L320.0 425.2 L320.6 425.4 L321.2 425.7 L321.9 426.0 L322.5 426.2 L323.1 426.6 L323.6 426.9 L324.2 427.2 L324.8 427.6 L325.3 427.9 L325.8 428.3 L326.4 428.7 L326.9 429.1 L327.3 429.6 L327.8 430.0 L328.2 430.5 L328.7 431.0 L329.1 431.5 L329.5 432.0 L329.8 432.5 L330.2 433.1 L330.5 433.7 L330.8 434.3 L331.0 434.9 L331.3 435.5 L331.5 436.2 L331.7 436.9 L331.8 437.6 L331.9 438.3 L332.0 439.0 L332.1 439.8 M392.9 52.0 L392.9 48.5 L392.9 45.0 L393.0 41.5 L393.0 38.0 M393.0 52.0 L393.1 48.5 L393.1 45.0 L393.1 41.5 L393.2 38.0" stroke="#ffc337"/>
<path d="M393.2 40.5 L393.2 39.2 L393.2 38.0" stroke="#f9fb0e"/>
<circle cx="364.8" cy="341.2" r="1.4" fill="#0faeb9" stroke="none"/>
</g>
<path d="M58.5 444.3 v-4.2 M58.5 33.4 v4.2 M140.7 444.3 v-4.2 M140.7 33.4 v4.2 M222.9 444.3 v-4.2 M222.9 33.4 v4.2 M305.2 444.3 v-4.2 M305.2 33.4 v4.2 M387.4 444.3 v-4.2 M387.4 33.4 v4.2 M469.6 444.3 v-4.2 M469.6 33.4 v4.2 M58.5 444.3 h4.2 M469.6 444.3 h-4.2 M58.5 362.1 h4.2 M469.6 362.1 h-4.2 M58.5 279.9 h4.2 M469.6 279.9 h-4.2 M58.5 197.8 h4.2 M469.6 197.8 h-4.2 M58.5 115.6 h4.2 M469.6 115.6 h-4.2 M58.5 33.4 h4.2 M469.6 33.4 h-4.2" stroke="#454545" stroke-width="1.0" fill="none"/>
<rect x="58.5" y="33.4" width="411.1" height="410.9" fill="none" stroke="#454545" stroke-width="1.0"/>
<g font-family="Liberation Serif, serif" fill="#262626" stroke="#262626" stroke-width="0.15">
<text transform="translate(58.5 472.4) scale(0.95 1)" font-size="24.3" text-anchor="middle" >0</text>
<text transform="translate(140.7 472.4) scale(0.95 1)" font-size="24.3" text-anchor="middle" >5</text>
<text transform="translate(222.9 472.4) scale(0.95 1)" font-size="24.3" text-anchor="middle" >10</text>
<text transform="translate(305.2 472.4) scale(0.95 1)" font-size="24.3" text-anchor="middle" >15</text>
<text transform="translate(387.4 472.4) scale(0.95 1)" font-size="24.3" text-anchor="middle" >20</text>
<text transform="translate(469.6 472.4) scale(0.95 1)" font-size="24.3" text-anchor="middle" >25</text>
<text transform="translate(51.8 452.0) scale(0.95 1)" font-size="24.3" text-anchor="end" >0</text>
<text transform="translate(51.8 369.8) scale(0.95 1)" font-size="24.3" text-anchor="end" >0.2</text>
<text transform="translate(51.8 287.6) scale(0.95 1)" font-size="24.3" text-anchor="end" >0.4</text>
<text transform="translate(51.8 205.5) scale(0.95 1)" font-size="24.3" text-anchor="end" >0.6</text>
<text transform="translate(51.8 123.3) scale(0.95 1)" font-size="24.3" text-anchor="end" >0.8</text>
<text transform="translate(51.8 41.1) scale(0.95 1)" font-size="24.3" text-anchor="end" >1</text>
<text transform="translate(263.8 499.4) scale(1.1 1)" font-size="25" text-anchor="middle" font-style="italic" >x</text>
<text transform="translate(10.2,238.0) rotate(-90)" font-size="27" text-anchor="middle" font-style="italic">y</text>
<text x="263.6" y="22.1" font-size="27" text-anchor="middle" textLength="194" lengthAdjust="spacingAndGlyphs"><tspan font-style="italic">n</tspan><tspan font-style="italic" font-size="19" dy="5">ε</tspan><tspan dy="-5">(</tspan><tspan font-style="italic">t</tspan>, <tspan font-style="italic">x</tspan>, <tspan font-style="italic">y</tspan>)/<tspan font-style="italic">ρ</tspan><tspan font-style="italic" font-size="19" dy="5">ε</tspan><tspan dy="-5">(</tspan><tspan font-style="italic">t</tspan>, <tspan font-style="italic">x</tspan>)</text>
<text x="158.5" y="282.8" font-size="16" textLength="33.7" lengthAdjust="spacingAndGlyphs"><tspan font-style="italic">t</tspan> = 4</text>
<text x="241.6" y="282.8" font-size="16" textLength="33.4" lengthAdjust="spacingAndGlyphs"><tspan font-style="italic">t</tspan> = 6</text>
<text x="324.7" y="282.8" font-size="16" textLength="33.6" lengthAdjust="spacingAndGlyphs"><tspan font-style="italic">t</tspan> = 8</text>
</g>
<defs><linearGradient id="pg" x1="0" y1="1" x2="0" y2="0"><stop offset="0.0000" stop-color="#352a87"/><stop offset="0.0159" stop-color="#363093"/><stop offset="0.0317" stop-color="#3637a0"/><stop offset="0.0476" stop-color="#353dad"/><stop offset="0.0635" stop-color="#3243ba"/><stop offset="0.0794" stop-color="#2c4ac7"/><stop offset="0.0952" stop-color="#2053d4"/><stop offset="0.1111" stop-color="#0f5cdd"/><stop offset="0.1270" stop-color="#0363e1"/><stop offset="0.1429" stop-color="#0268e1"/><stop offset="0.1587" stop-color="#046de0"/><stop offset="0.1746" stop-color="#0871de"/><stop offset="0.1905" stop-color="#0d75dc"/><stop offset="0.2063" stop-color="#1079da"/><stop offset="0.2222" stop-color="#127dd8"/><stop offset="0.2381" stop-color="#1481d6"/><stop offset="0.2540" stop-color="#1485d4"/><stop offset="0.2698" stop-color="#1389d3"/><stop offset="0.2857" stop-color="#108ed2"/><stop offset="0.3016" stop-color="#0c93d2"/><stop offset="0.3175" stop-color="#0998d1"/><stop offset="0.3333" stop-color="#079ccf"/><stop offset="0.3492" stop-color="#06a0cd"/><stop offset="0.3651" stop-color="#06a4ca"/><stop offset="0.3810" stop-color="#06a7c6"/><stop offset="0.3968" stop-color="#07a9c2"/><stop offset="0.4127" stop-color="#0aacbe"/><stop offset="0.4286" stop-color="#0faeb9"/><stop offset="0.4444" stop-color="#15b1b4"/><stop offset="0.4603" stop-color="#1db3af"/><stop offset="0.4762" stop-color="#25b5a9"/><stop offset="0.4921" stop-color="#2eb7a4"/><stop offset="0.5079" stop-color="#38b99e"/><stop offset="0.5238" stop-color="#42bb98"/><stop offset="0.5397" stop-color="#4dbc92"/><stop offset="0.5556" stop-color="#59bd8c"/><stop offset="0.5714" stop-color="#65be86"/><stop offset="0.5873" stop-color="#71bf80"/><stop offset="0.6032" stop-color="#7cbf7b"/><stop offset="0.6190" stop-color="#87bf77"/><stop offset="0.6349" stop-color="#92bf73"/><stop offset="0.6508" stop-color="#9cbf6f"/><stop offset="0.6667" stop-color="#a5be6b"/><stop offset="0.6825" stop-color="#aebe67"/><stop offset="0.6984" stop-color="#b7bd64"/><stop offset="0.7143" stop-color="#c0bc60"/><stop offset="0.7302" stop-color="#c8bc5d"/><stop offset="0.7460" stop-color="#d1bb59"/><stop offset="0.7619" stop-color="#d9ba56"/><stop offset="0.7778" stop-color="#e1b952"/><stop offset="0.7937" stop-color="#e9b94e"/><stop offset="0.8095" stop-color="#f1b94a"/><stop offset="0.8254" stop-color="#f8bb44"/><stop offset="0.8413" stop-color="#fdbe3d"/><stop offset="0.8571" stop-color="#ffc337"/><stop offset="0.8730" stop-color="#fec832"/><stop offset="0.8889" stop-color="#fcce2e"/><stop offset="0.9048" stop-color="#fad32a"/><stop offset="0.9206" stop-color="#f7d826"/><stop offset="0.9365" stop-color="#f5de21"/><stop offset="0.9524" stop-color="#f5e41d"/><stop offset="0.9683" stop-color="#f5eb18"/><stop offset="0.9841" stop-color="#f6f313"/><stop offset="1.0000" stop-color="#f9fb0e"/></linearGradient></defs>
<rect x="490.4" y="33.4" width="19.5" height="410.8" fill="url(#pg)" stroke="#262626" stroke-width="1"/>
<g font-family="Liberation Serif, serif" fill="#262626" stroke="#262626" stroke-width="0.15">
<text transform="translate(516.2 452.0) scale(0.95 1)" font-size="22.4" text-anchor="start" >1</text>
<text transform="translate(516.2 393.3) scale(0.95 1)" font-size="22.4" text-anchor="start" >2</text>
<text transform="translate(516.2 334.6) scale(0.95 1)" font-size="22.4" text-anchor="start" >3</text>
<text transform="translate(516.2 275.9) scale(0.95 1)" font-size="22.4" text-anchor="start" >4</text>
<text transform="translate(516.2 217.3) scale(0.95 1)" font-size="22.4" text-anchor="start" >5</text>
<text transform="translate(516.2 158.6) scale(0.95 1)" font-size="22.4" text-anchor="start" >6</text>
<text transform="translate(516.2 99.9) scale(0.95 1)" font-size="22.4" text-anchor="start" >7</text>
<text transform="translate(516.2 41.2) scale(0.95 1)" font-size="22.4" text-anchor="start" >8</text>
</g>
<path d="M509.9 385.5 h-4.4 M509.9 326.8 h-4.4 M509.9 268.1 h-4.4 M509.9 209.5 h-4.4 M509.9 150.8 h-4.4 M509.9 92.1 h-4.4" stroke="#262626" stroke-width="1" fill="none"/>
<rect x="609.0" y="31.6" width="413.6" height="412.7" fill="#fff"/>
<path d="M691.7 31.6 V444.3 M774.4 31.6 V444.3 M857.2 31.6 V444.3 M939.9 31.6 V444.3 M609.0 361.8 H1022.6 M609.0 279.2 H1022.6 M609.0 196.7 H1022.6 M609.0 114.1 H1022.6" stroke="#e3e3e3" stroke-width="1.5" fill="none" transform="translate(0.25 0.2)"/>
<path d="M609.0 444.3 v-4.2 M609.0 31.6 v4.2 M691.7 444.3 v-4.2 M691.7 31.6 v4.2 M774.4 444.3 v-4.2 M774.4 31.6 v4.2 M857.2 444.3 v-4.2 M857.2 31.6 v4.2 M939.9 444.3 v-4.2 M939.9 31.6 v4.2 M1022.6 444.3 v-4.2 M1022.6 31.6 v4.2 M609.0 444.3 h4.2 M1022.6 444.3 h-4.2 M609.0 361.8 h4.2 M1022.6 361.8 h-4.2 M609.0 279.2 h4.2 M1022.6 279.2 h-4.2 M609.0 196.7 h4.2 M1022.6 196.7 h-4.2 M609.0 114.1 h4.2 M1022.6 114.1 h-4.2 M609.0 31.6 h4.2 M1022.6 31.6 h-4.2" stroke="#454545" stroke-width="1.0" fill="none"/>
<rect x="609.0" y="31.6" width="413.6" height="412.7" fill="none" stroke="#454545" stroke-width="1.0"/>
<g fill="none" stroke="#0000ff" stroke-width="4.2" stroke-linejoin="miter">
<path d="M609.0 35.7 L650.0 35.7 L652.8 35.3 L655.7 35.2 L658.5 35.2 L661.3 35.5 L664.0 36.1 L666.6 36.9 L668.9 38.0 L671.0 39.5 L672.8 41.2 L674.4 43.2 L675.8 45.4 L677.0 47.8 L678.0 50.2 L679.0 52.7 L679.8 55.3 L680.6 57.8 L681.3 60.4 L681.9 63.1 L682.4 65.7 L682.9 68.3 L683.3 71.0 L683.7 73.7 L684.1 76.4 L684.3 79.1 L684.6 81.8 L684.8 84.5 L685.0 87.3 L685.2 90.0 L685.3 92.7 L685.5 95.5 L685.6 98.2 L685.7 100.9 L685.9 103.7 L686.0 106.4 L686.1 109.1 L686.3 111.8 L686.4 114.5 L686.6 117.3 L686.7 120.0 L686.9 122.7 L687.0 125.4 L687.2 128.1 L687.3 130.8 L687.5 133.5 L687.6 136.2 L687.8 138.9 L687.9 141.6 L688.1 144.3 L688.2 147.0 L688.3 149.7 L688.5 152.3 L688.6 155.0 L688.8 157.7 L688.9 160.4 L689.0 163.1 L689.2 165.8 L689.3 168.5 L689.4 171.2 L689.6 173.9 L689.7 176.6 L689.8 179.3 L689.9 182.0 L690.0 184.7 L690.1 187.4 L690.3 190.1 L690.4 192.8 L690.5 195.5 L690.6 198.2 L690.7 200.9 L690.8 203.6 L690.9 206.3 L691.0 209.0 L691.1 211.7 L691.2 214.4 L691.2 217.1 L691.3 219.8 L691.4 222.5 L691.5 225.2 L691.6 227.9 L691.7 230.6 L691.7 233.3 L691.8 236.0 L691.9 238.7 L692.0 241.4 L692.0 244.1 L692.1 246.8 L692.2 249.5 L692.2 252.2 L692.3 254.9 L692.4 257.6 L692.4 260.3 L692.5 263.0 L692.6 265.7 L692.6 268.4 L692.7 271.1 L692.7 273.9 L692.8 276.6 L692.8 279.3 L692.9 282.0 L692.9 284.7 L693.0 287.4 L693.0 290.1 L693.1 292.8 L693.1 295.5 L693.1 298.2 L693.2 300.9 L693.2 303.6 L693.3 306.3 L693.3 309.0 L693.3 311.7 L693.4 314.5 L693.4 317.2 L693.4 319.9 L693.5 322.6 L693.5 325.3 L693.5 328.0 L693.6 330.7 L693.6 333.4 L693.6 336.1 L693.7 338.8 L693.7 341.5 L693.7 344.2 L693.7 346.9 L693.8 349.7 L693.8 352.4 L693.8 355.1 L693.8 357.8 L693.8 360.5 L693.9 363.2 L693.9 365.9 L693.9 368.6 L693.9 371.3 L694.0 374.0 L694.0 376.7 L694.0 379.4 L694.0 382.1 L694.0 384.8 L694.0 387.5 L694.1 390.2 L694.1 393.0 L694.1 395.7 L694.1 398.4 L694.1 401.1 L694.1 403.8 L694.2 406.5 L694.2 409.2 L694.2 411.9 L694.2 414.6 L694.2 417.3 L694.2 420.0 L694.3 422.7 L694.3 425.4 L694.3 428.1 L694.3 430.8 L694.3 433.5 L694.3 436.2 L694.4 438.9 L694.4 441.6 L694.4 444.3 L1022.6 444.3"/>
<path d="M609.0 35.7 L691.1 35.7 L693.9 35.3 L696.8 35.2 L699.6 35.2 L702.4 35.5 L705.1 36.1 L707.7 36.9 L710.0 38.0 L712.1 39.5 L713.9 41.2 L715.5 43.2 L716.9 45.4 L718.1 47.8 L719.1 50.2 L720.1 52.7 L720.9 55.3 L721.7 57.8 L722.4 60.4 L723.0 63.1 L723.5 65.7 L724.0 68.3 L724.4 71.0 L724.8 73.7 L725.2 76.4 L725.4 79.1 L725.7 81.8 L725.9 84.5 L726.1 87.3 L726.3 90.0 L726.4 92.7 L726.6 95.5 L726.7 98.2 L726.8 100.9 L727.0 103.7 L727.1 106.4 L727.2 109.1 L727.4 111.8 L727.5 114.5 L727.7 117.3 L727.8 120.0 L728.0 122.7 L728.1 125.4 L728.3 128.1 L728.4 130.8 L728.6 133.5 L728.7 136.2 L728.9 138.9 L729.0 141.6 L729.2 144.3 L729.3 147.0 L729.4 149.7 L729.6 152.3 L729.7 155.0 L729.9 157.7 L730.0 160.4 L730.1 163.1 L730.3 165.8 L730.4 168.5 L730.5 171.2 L730.7 173.9 L730.8 176.6 L730.9 179.3 L731.0 182.0 L731.1 184.7 L731.2 187.4 L731.4 190.1 L731.5 192.8 L731.6 195.5 L731.7 198.2 L731.8 200.9 L731.9 203.6 L732.0 206.3 L732.1 209.0 L732.2 211.7 L732.3 214.4 L732.3 217.1 L732.4 219.8 L732.5 222.5 L732.6 225.2 L732.7 227.9 L732.8 230.6 L732.8 233.3 L732.9 236.0 L733.0 238.7 L733.1 241.4 L733.1 244.1 L733.2 246.8 L733.3 249.5 L733.3 252.2 L733.4 254.9 L733.5 257.6 L733.5 260.3 L733.6 263.0 L733.7 265.7 L733.7 268.4 L733.8 271.1 L733.8 273.9 L733.9 276.6 L733.9 279.3 L734.0 282.0 L734.0 284.7 L734.1 287.4 L734.1 290.1 L734.2 292.8 L734.2 295.5 L734.2 298.2 L734.3 300.9 L734.3 303.6 L734.4 306.3 L734.4 309.0 L734.4 311.7 L734.5 314.5 L734.5 317.2 L734.5 319.9 L734.6 322.6 L734.6 325.3 L734.6 328.0 L734.7 330.7 L734.7 333.4 L734.7 336.1 L734.8 338.8 L734.8 341.5 L734.8 344.2 L734.8 346.9 L734.9 349.7 L734.9 352.4 L734.9 355.1 L734.9 357.8 L734.9 360.5 L735.0 363.2 L735.0 365.9 L735.0 368.6 L735.0 371.3 L735.1 374.0 L735.1 376.7 L735.1 379.4 L735.1 382.1 L735.1 384.8 L735.1 387.5 L735.2 390.2 L735.2 393.0 L735.2 395.7 L735.2 398.4 L735.2 401.1 L735.2 403.8 L735.3 406.5 L735.3 409.2 L735.3 411.9 L735.3 414.6 L735.3 417.3 L735.3 420.0 L735.4 422.7 L735.4 425.4 L735.4 428.1 L735.4 430.8 L735.4 433.5 L735.4 436.2 L735.5 438.9 L735.5 441.6 L735.5 444.3 L1022.6 444.3"/>
<path d="M609.0 35.7 L732.2 35.7 L735.0 35.3 L737.9 35.2 L740.7 35.2 L743.5 35.5 L746.2 36.1 L748.8 36.9 L751.1 38.0 L753.2 39.5 L755.0 41.2 L756.6 43.2 L758.0 45.4 L759.2 47.8 L760.2 50.2 L761.2 52.7 L762.0 55.3 L762.8 57.8 L763.5 60.4 L764.1 63.1 L764.6 65.7 L765.1 68.3 L765.5 71.0 L765.9 73.7 L766.3 76.4 L766.5 79.1 L766.8 81.8 L767.0 84.5 L767.2 87.3 L767.4 90.0 L767.5 92.7 L767.7 95.5 L767.8 98.2 L767.9 100.9 L768.1 103.7 L768.2 106.4 L768.3 109.1 L768.5 111.8 L768.6 114.5 L768.8 117.3 L768.9 120.0 L769.1 122.7 L769.2 125.4 L769.4 128.1 L769.5 130.8 L769.7 133.5 L769.8 136.2 L770.0 138.9 L770.1 141.6 L770.3 144.3 L770.4 147.0 L770.5 149.7 L770.7 152.3 L770.8 155.0 L771.0 157.7 L771.1 160.4 L771.2 163.1 L771.4 165.8 L771.5 168.5 L771.6 171.2 L771.8 173.9 L771.9 176.6 L772.0 179.3 L772.1 182.0 L772.2 184.7 L772.3 187.4 L772.5 190.1 L772.6 192.8 L772.7 195.5 L772.8 198.2 L772.9 200.9 L773.0 203.6 L773.1 206.3 L773.2 209.0 L773.3 211.7 L773.4 214.4 L773.4 217.1 L773.5 219.8 L773.6 222.5 L773.7 225.2 L773.8 227.9 L773.9 230.6 L773.9 233.3 L774.0 236.0 L774.1 238.7 L774.2 241.4 L774.2 244.1 L774.3 246.8 L774.4 249.5 L774.4 252.2 L774.5 254.9 L774.6 257.6 L774.6 260.3 L774.7 263.0 L774.8 265.7 L774.8 268.4 L774.9 271.1 L774.9 273.9 L775.0 276.6 L775.0 279.3 L775.1 282.0 L775.1 284.7 L775.2 287.4 L775.2 290.1 L775.3 292.8 L775.3 295.5 L775.3 298.2 L775.4 300.9 L775.4 303.6 L775.5 306.3 L775.5 309.0 L775.5 311.7 L775.6 314.5 L775.6 317.2 L775.6 319.9 L775.7 322.6 L775.7 325.3 L775.7 328.0 L775.8 330.7 L775.8 333.4 L775.8 336.1 L775.9 338.8 L775.9 341.5 L775.9 344.2 L775.9 346.9 L776.0 349.7 L776.0 352.4 L776.0 355.1 L776.0 357.8 L776.0 360.5 L776.1 363.2 L776.1 365.9 L776.1 368.6 L776.1 371.3 L776.2 374.0 L776.2 376.7 L776.2 379.4 L776.2 382.1 L776.2 384.8 L776.2 387.5 L776.3 390.2 L776.3 393.0 L776.3 395.7 L776.3 398.4 L776.3 401.1 L776.3 403.8 L776.4 406.5 L776.4 409.2 L776.4 411.9 L776.4 414.6 L776.4 417.3 L776.4 420.0 L776.5 422.7 L776.5 425.4 L776.5 428.1 L776.5 430.8 L776.5 433.5 L776.5 436.2 L776.6 438.9 L776.6 441.6 L776.6 444.3 L1022.6 444.3"/>
</g>
<g fill="none" stroke="#00ffff" stroke-dasharray="16.0 14.9" stroke-linejoin="round">
<path d="M609 31.4 H670.8" stroke-width="4.6"/>
<path d="M670.8 31.4 L677.6 44.5 L678.2 47.0 L678.8 49.5 L679.4 52.1 L680.0 54.6 L680.5 57.1 L681.0 59.6 L681.5 62.2 L682.0 64.7 L682.5 67.3 L682.9 69.8 L683.3 72.4 L683.7 74.9 L684.1 77.5 L684.5 80.0 L684.8 82.6 L685.2 85.2 L685.5 87.7 L685.8 90.3 L686.1 92.9 L686.4 95.4 L686.6 98.0 L686.9 100.6 L687.1 103.2 L687.4 105.7 L687.6 108.3 L687.8 110.9 L688.0 113.5 L688.2 116.1 L688.4 118.6 L688.5 121.2 L688.7 123.8 L688.9 126.4 L689.0 129.0 L689.2 131.6 L689.3 134.2 L689.4 136.8 L689.5 139.4 L689.7 142.0 L689.8 144.6 L689.9 147.1 L690.0 149.7 L690.1 152.3 L690.2 154.9 L690.3 157.5 L690.4 160.1 L690.4 162.7 L690.5 165.3 L690.6 167.9 L690.7 170.5 L690.7 173.1 L690.8 175.7 L690.9 178.3 L691.0 180.9 L691.0 183.5 L691.1 186.1 L691.2 188.7 L691.3 191.3 L691.3 193.9 L691.4 196.5 L691.5 199.1 L691.6 201.7 L691.6 204.3 L691.7 206.8 L691.8 209.4 L691.8 212.0 L691.9 214.6 L692.0 217.2 L692.1 219.8 L692.1 222.4 L692.2 225.0 L692.3 227.6 L692.3 230.2 L692.4 232.8 L692.5 235.4 L692.5 238.0 L692.6 240.5 L692.7 243.1 L692.7 245.7 L692.8 248.3 L692.9 250.9 L692.9 253.5 L693.0 256.1 L693.1 258.7 L693.1 261.3 L693.2 263.9 L693.2 266.5 L693.3 269.0 L693.4 271.6 L693.4 274.2 L693.5 276.8 L693.5 279.4 L693.6 282.0 L693.6 284.6 L693.7 287.2 L693.8 289.8 L693.8 292.4 L693.9 295.0 L693.9 297.5 L694.0 300.1 L694.0 302.7 L694.1 305.3 L694.1 307.9 L694.1 310.5 L694.2 313.1 L694.2 315.7 L694.3 318.3 L694.3 320.9 L694.4 323.5 L694.4 326.1 L694.4 328.6 L694.5 331.2 L694.5 333.8 L694.5 336.4 L694.6 339.0 L694.6 341.6 L694.6 344.2 L694.6 346.8 L694.7 349.4 L694.7 352.0" stroke-width="3.5" stroke-dashoffset="30.90"/>
<path d="M609 31.4 H711.9" stroke-width="4.6"/>
<path d="M711.9 31.4 L718.7 44.5 L719.3 47.0 L719.9 49.5 L720.5 52.1 L721.1 54.6 L721.6 57.1 L722.1 59.6 L722.6 62.2 L723.1 64.7 L723.6 67.3 L724.0 69.8 L724.4 72.4 L724.8 74.9 L725.2 77.5 L725.6 80.0 L725.9 82.6 L726.3 85.2 L726.6 87.7 L726.9 90.3 L727.2 92.9 L727.5 95.4 L727.7 98.0 L728.0 100.6 L728.2 103.2 L728.5 105.7 L728.7 108.3 L728.9 110.9 L729.1 113.5 L729.3 116.1 L729.5 118.6 L729.6 121.2 L729.8 123.8 L730.0 126.4 L730.1 129.0 L730.3 131.6 L730.4 134.2 L730.5 136.8 L730.6 139.4 L730.8 142.0 L730.9 144.6 L731.0 147.1 L731.1 149.7 L731.2 152.3 L731.3 154.9 L731.4 157.5 L731.5 160.1 L731.5 162.7 L731.6 165.3 L731.7 167.9 L731.8 170.5 L731.8 173.1 L731.9 175.7 L732.0 178.3 L732.1 180.9 L732.1 183.5 L732.2 186.1 L732.3 188.7 L732.4 191.3 L732.4 193.9 L732.5 196.5 L732.6 199.1 L732.7 201.7 L732.7 204.3 L732.8 206.8 L732.9 209.4 L732.9 212.0 L733.0 214.6 L733.1 217.2 L733.2 219.8 L733.2 222.4 L733.3 225.0 L733.4 227.6 L733.4 230.2 L733.5 232.8 L733.6 235.4 L733.6 238.0 L733.7 240.5 L733.8 243.1 L733.8 245.7 L733.9 248.3 L734.0 250.9 L734.0 253.5 L734.1 256.1 L734.2 258.7 L734.2 261.3 L734.3 263.9 L734.3 266.5 L734.4 269.0 L734.5 271.6 L734.5 274.2 L734.6 276.8 L734.6 279.4 L734.7 282.0 L734.7 284.6 L734.8 287.2 L734.9 289.8 L734.9 292.4 L735.0 295.0 L735.0 297.5 L735.1 300.1 L735.1 302.7 L735.2 305.3 L735.2 307.9 L735.2 310.5 L735.3 313.1 L735.3 315.7 L735.4 318.3 L735.4 320.9 L735.5 323.5 L735.5 326.1 L735.5 328.6 L735.6 331.2 L735.6 333.8 L735.6 336.4 L735.7 339.0 L735.7 341.6 L735.7 344.2 L735.7 346.8 L735.8 349.4 L735.8 352.0" stroke-width="3.5" stroke-dashoffset="10.20"/>
<path d="M609 31.4 H753.0" stroke-width="4.6"/>
<path d="M753.0 31.4 L759.8 44.5 L760.4 47.0 L761.0 49.5 L761.6 52.1 L762.2 54.6 L762.7 57.1 L763.2 59.6 L763.7 62.2 L764.2 64.7 L764.7 67.3 L765.1 69.8 L765.5 72.4 L765.9 74.9 L766.3 77.5 L766.7 80.0 L767.0 82.6 L767.4 85.2 L767.7 87.7 L768.0 90.3 L768.3 92.9 L768.6 95.4 L768.8 98.0 L769.1 100.6 L769.3 103.2 L769.6 105.7 L769.8 108.3 L770.0 110.9 L770.2 113.5 L770.4 116.1 L770.6 118.6 L770.7 121.2 L770.9 123.8 L771.1 126.4 L771.2 129.0 L771.4 131.6 L771.5 134.2 L771.6 136.8 L771.7 139.4 L771.9 142.0 L772.0 144.6 L772.1 147.1 L772.2 149.7 L772.3 152.3 L772.4 154.9 L772.5 157.5 L772.6 160.1 L772.6 162.7 L772.7 165.3 L772.8 167.9 L772.9 170.5 L772.9 173.1 L773.0 175.7 L773.1 178.3 L773.2 180.9 L773.2 183.5 L773.3 186.1 L773.4 188.7 L773.5 191.3 L773.5 193.9 L773.6 196.5 L773.7 199.1 L773.8 201.7 L773.8 204.3 L773.9 206.8 L774.0 209.4 L774.0 212.0 L774.1 214.6 L774.2 217.2 L774.3 219.8 L774.3 222.4 L774.4 225.0 L774.5 227.6 L774.5 230.2 L774.6 232.8 L774.7 235.4 L774.7 238.0 L774.8 240.5 L774.9 243.1 L774.9 245.7 L775.0 248.3 L775.1 250.9 L775.1 253.5 L775.2 256.1 L775.3 258.7 L775.3 261.3 L775.4 263.9 L775.4 266.5 L775.5 269.0 L775.6 271.6 L775.6 274.2 L775.7 276.8 L775.7 279.4 L775.8 282.0 L775.8 284.6 L775.9 287.2 L776.0 289.8 L776.0 292.4 L776.1 295.0 L776.1 297.5 L776.2 300.1 L776.2 302.7 L776.3 305.3 L776.3 307.9 L776.3 310.5 L776.4 313.1 L776.4 315.7 L776.5 318.3 L776.5 320.9 L776.6 323.5 L776.6 326.1 L776.6 328.6 L776.7 331.2 L776.7 333.8 L776.7 336.4 L776.8 339.0 L776.8 341.6 L776.8 344.2 L776.8 346.8 L776.9 349.4 L776.9 352.0" stroke-width="3.5" stroke-dashoffset="20.40"/>
</g>
<g font-family="Liberation Serif, serif" fill="#262626" stroke="#262626" stroke-width="0.15">
<text transform="translate(609.0 472.4) scale(0.95 1)" font-size="24.3" text-anchor="middle" >0</text>
<text transform="translate(691.7 472.4) scale(0.95 1)" font-size="24.3" text-anchor="middle" >10</text>
<text transform="translate(774.4 472.4) scale(0.95 1)" font-size="24.3" text-anchor="middle" >20</text>
<text transform="translate(857.2 472.4) scale(0.95 1)" font-size="24.3" text-anchor="middle" >30</text>
<text transform="translate(939.9 472.4) scale(0.95 1)" font-size="24.3" text-anchor="middle" >40</text>
<text transform="translate(1022.6 472.4) scale(0.95 1)" font-size="24.3" text-anchor="middle" >50</text>
<text transform="translate(602.0 452.0) scale(0.95 1)" font-size="24.3" text-anchor="end" >0</text>
<text transform="translate(602.0 369.5) scale(0.95 1)" font-size="24.3" text-anchor="end" >0.2</text>
<text transform="translate(602.0 286.9) scale(0.95 1)" font-size="24.3" text-anchor="end" >0.4</text>
<text transform="translate(602.0 204.4) scale(0.95 1)" font-size="24.3" text-anchor="end" >0.6</text>
<text transform="translate(602.0 121.8) scale(0.95 1)" font-size="24.3" text-anchor="end" >0.8</text>
<text transform="translate(602.0 39.3) scale(0.95 1)" font-size="24.3" text-anchor="end" >1</text>
<text transform="translate(815.8 499.4) scale(1.1 1)" font-size="25" text-anchor="middle" font-style="italic" >x</text>
<text x="815.5" y="18.8" font-size="27" text-anchor="middle" textLength="76" lengthAdjust="spacingAndGlyphs"><tspan font-style="italic">ρ</tspan><tspan font-style="italic" font-size="19" dy="5">ε</tspan><tspan dy="-5">(</tspan><tspan font-style="italic">t</tspan>, <tspan font-style="italic">x</tspan>)</text>
<text x="656.7" y="402.8" font-size="16" textLength="33.6" lengthAdjust="spacingAndGlyphs"><tspan font-style="italic">t</tspan> = 4</text>
<text x="698.0" y="402.8" font-size="16" textLength="33.5" lengthAdjust="spacingAndGlyphs"><tspan font-style="italic">t</tspan> = 6</text>
<text x="739.2" y="402.8" font-size="16" textLength="34.3" lengthAdjust="spacingAndGlyphs"><tspan font-style="italic">t</tspan> = 8</text>
</g>
<rect x="803.6" y="42.4" width="209.6" height="209.2" fill="#fff"/>
<path d="M803.6 251.6 v-2.6 M803.6 42.4 v2.6 M856.0 251.6 v-2.6 M856.0 42.4 v2.6 M908.4 251.6 v-2.6 M908.4 42.4 v2.6 M960.8 251.6 v-2.6 M960.8 42.4 v2.6 M1013.2 251.6 v-2.6 M1013.2 42.4 v2.6 M803.6 251.6 h2.6 M1013.2 251.6 h-2.6 M803.6 209.8 h2.6 M1013.2 209.8 h-2.6 M803.6 167.9 h2.6 M1013.2 167.9 h-2.6 M803.6 126.1 h2.6 M1013.2 126.1 h-2.6 M803.6 84.2 h2.6 M1013.2 84.2 h-2.6 M803.6 42.4 h2.6 M1013.2 42.4 h-2.6" stroke="#1a1a1a" stroke-width="1.9" fill="none"/>
<rect x="803.6" y="42.4" width="209.6" height="209.2" fill="none" stroke="#1a1a1a" stroke-width="1.9"/>
<g fill="none" stroke-width="4.1" stroke-linejoin="round">
<path d="M803.6 251.6 L804.3 250.9 L804.9 250.3 L805.6 249.6 L806.2 248.9 L806.9 248.3 L807.5 247.6 L808.2 247.0 L808.8 246.3 L809.5 245.6 L810.1 245.0 L810.8 244.3 L811.5 243.6 L812.1 243.0 L812.8 242.3 L813.4 241.6 L814.1 241.0 L814.7 240.4 L815.4 239.9 L816.0 239.4 L816.7 238.9 L817.4 238.4 L818.0 237.8 L818.7 237.3 L819.3 236.8 L820.0 236.3 L820.6 235.7 L821.3 235.2 L821.9 234.7 L822.6 234.2 L823.2 233.7 L823.9 233.1 L824.6 232.6 L825.2 232.1 L825.9 231.6 L826.5 231.0 L827.2 230.5 L827.8 230.0 L828.5 229.5 L829.1 228.9 L829.8 228.4 L832.4 226.3 L835.0 224.2 L837.7 222.1 L840.3 220.1 L842.9 218.0 L845.5 215.9 L848.1 213.8 L850.8 211.7 L853.4 209.6 L856.0 207.5 L858.6 205.4 L861.2 203.3 L863.9 201.2 L866.5 199.1 L869.1 197.0 L871.7 194.9 L874.3 192.9 L877.0 190.8 L879.6 188.7 L882.2 186.6 L884.8 184.5 L887.4 182.4 L890.1 180.3 L892.7 178.2 L895.3 176.1 L897.9 174.0 L900.5 171.9 L903.2 169.8 L905.8 167.8 L908.4 165.7 L911.0 163.6 L913.6 161.5 L916.3 159.4 L918.9 157.3 L921.5 155.2 L924.1 153.1 L926.7 151.0 L929.4 148.9 L932.0 146.8 L934.6 144.7 L937.2 142.6 L939.8 140.6 L942.5 138.5 L945.1 136.4 L947.7 134.3 L950.3 132.2 L952.9 130.1 L955.6 128.0 L958.2 125.9 L960.8 123.8 L963.4 121.7 L966.0 119.6 L968.7 117.5 L971.3 115.5 L973.9 113.4 L976.5 111.3 L979.1 109.2 L981.8 107.1 L984.4 105.0 L987.0 102.9 L989.6 100.8 L992.2 98.7 L994.9 96.6 L997.5 94.5 L1000.1 92.4 L1002.7 90.3 L1005.3 88.3 L1008.0 86.2 L1010.6 84.1 L1013.2 82.0" stroke="#0000ff"/>
<rect x="800.3" y="248.3" width="6.6" height="6.6" stroke="#0000ff" stroke-width="3"/>
<rect x="852.7" y="204.2" width="6.6" height="6.6" stroke="#0000ff" stroke-width="3"/>
<rect x="905.1" y="162.4" width="6.6" height="6.6" stroke="#0000ff" stroke-width="3"/>
<rect x="957.5" y="120.5" width="6.6" height="6.6" stroke="#0000ff" stroke-width="3"/>
<rect x="1009.9" y="78.7" width="6.6" height="6.6" stroke="#0000ff" stroke-width="3"/>
<path d="M803.6 251.6 L804.3 251.1 L804.9 250.6 L805.6 250.1 L806.2 249.6 L806.9 249.1 L807.5 248.6 L808.2 248.1 L808.8 247.6 L809.5 247.1 L810.1 246.6 L810.8 246.1 L811.5 245.6 L812.1 245.1 L812.8 244.6 L813.4 244.1 L814.1 243.6 L814.7 243.0 L815.4 242.5 L816.0 242.0 L816.7 241.5 L817.4 241.0 L818.0 240.4 L818.7 239.9 L819.3 239.4 L820.0 238.9 L820.6 238.3 L821.3 237.8 L821.9 237.3 L822.6 236.8 L823.2 236.2 L823.9 235.7 L824.6 235.2 L825.2 234.7 L825.9 234.2 L826.5 233.6 L827.2 233.1 L827.8 232.6 L828.5 232.1 L829.1 231.5 L829.8 231.0 L832.4 228.9 L835.0 226.8 L837.7 224.7 L840.3 222.6 L842.9 220.6 L845.5 218.5 L848.1 216.4 L850.8 214.3 L853.4 212.2 L856.0 210.1 L858.6 208.0 L861.2 205.9 L863.9 203.8 L866.5 201.7 L869.1 199.6 L871.7 197.5 L874.3 195.5 L877.0 193.4 L879.6 191.3 L882.2 189.2 L884.8 187.1 L887.4 185.0 L890.1 182.9 L892.7 180.8 L895.3 178.7 L897.9 176.6 L900.5 174.5 L903.2 172.4 L905.8 170.3 L908.4 168.3 L911.0 166.2 L913.6 164.1 L916.3 162.0 L918.9 159.9 L921.5 157.8 L924.1 155.7 L926.7 153.6 L929.4 151.5 L932.0 149.4 L934.6 147.3 L937.2 145.2 L939.8 143.2 L942.5 141.1 L945.1 139.0 L947.7 136.9 L950.3 134.8 L952.9 132.7 L955.6 130.6 L958.2 128.5 L960.8 126.4 L963.4 124.3 L966.0 122.2 L968.7 120.1 L971.3 118.0 L973.9 116.0 L976.5 113.9 L979.1 111.8 L981.8 109.7 L984.4 107.6 L987.0 105.5 L989.6 103.4 L992.2 101.3 L994.9 99.2 L997.5 97.1 L1000.1 95.0 L1002.7 92.9 L1005.3 90.9 L1008.0 88.8 L1010.6 86.7 L1013.2 84.6" stroke="#ff0000"/>
<path d="M803.6 244.6 l5 7 l-5 7 l-5 -7 Z" stroke="#ff0000" stroke-width="1.8"/>
<path d="M856.0 203.1 l5 7 l-5 7 l-5 -7 Z" stroke="#ff0000" stroke-width="1.8"/>
<path d="M908.4 161.3 l5 7 l-5 7 l-5 -7 Z" stroke="#ff0000" stroke-width="1.8"/>
<path d="M960.8 119.4 l5 7 l-5 7 l-5 -7 Z" stroke="#ff0000" stroke-width="1.8"/>
<path d="M1013.2 77.6 l5 7 l-5 7 l-5 -7 Z" stroke="#ff0000" stroke-width="1.8"/>
<path d="M803.6 251.6 L804.3 251.6 L804.9 251.6 L805.6 251.6 L806.2 251.6 L806.9 251.6 L807.5 251.6 L808.2 251.6 L808.8 251.5 L809.5 251.4 L810.1 251.3 L810.8 251.1 L811.5 250.8 L812.1 250.4 L812.8 249.9 L813.4 249.4 L814.1 248.8 L814.7 248.3 L815.4 247.7 L816.0 247.1 L816.7 246.5 L817.4 246.0 L818.0 245.4 L818.7 244.8 L819.3 244.3 L820.0 243.7 L820.6 243.1 L821.3 242.6 L821.9 242.0 L822.6 241.5 L823.2 240.9 L823.9 240.3 L824.6 239.8 L825.2 239.2 L825.9 238.7 L826.5 238.1 L827.2 237.6 L827.8 237.0 L828.5 236.5 L829.1 235.9 L829.8 235.4 L832.4 233.2 L835.0 231.0 L837.7 228.8 L840.3 226.6 L842.9 224.5 L845.5 222.3 L848.1 220.2 L850.8 218.0 L853.4 215.9 L856.0 213.8 L858.6 211.6 L861.2 209.5 L863.9 207.4 L866.5 205.3 L869.1 203.2 L871.7 201.1 L874.3 198.9 L877.0 196.8 L879.6 194.7 L882.2 192.6 L884.8 190.5 L887.4 188.4 L890.1 186.3 L892.7 184.2 L895.3 182.1 L897.9 180.0 L900.5 177.9 L903.2 175.8 L905.8 173.7 L908.4 171.6 L911.0 169.5 L913.6 167.4 L916.3 165.4 L918.9 163.3 L921.5 161.2 L924.1 159.1 L926.7 157.0 L929.4 154.9 L932.0 152.8 L934.6 150.7 L937.2 148.6 L939.8 146.5 L942.5 144.4 L945.1 142.3 L947.7 140.2 L950.3 138.1 L952.9 136.0 L955.6 134.0 L958.2 131.9 L960.8 129.8 L963.4 127.7 L966.0 125.6 L968.7 123.5 L971.3 121.4 L973.9 119.3 L976.5 117.2 L979.1 115.1 L981.8 113.0 L984.4 110.9 L987.0 108.8 L989.6 106.8 L992.2 104.7 L994.9 102.6 L997.5 100.5 L1000.1 98.4 L1002.7 96.3 L1005.3 94.2 L1008.0 92.1 L1010.6 90.0 L1013.2 87.9" stroke="#000"/>
<path d="M797.2 251.6 L810.0 251.6 M799.1 247.1 L808.1 256.1 M803.6 245.2 L803.6 258.0 M808.1 247.1 L799.1 256.1" stroke="#000" stroke-width="2.2" fill="none"/>
<path d="M849.6 213.8 L862.4 213.8 M851.5 209.2 L860.5 218.3 M856.0 207.4 L856.0 220.2 M860.5 209.2 L851.5 218.3" stroke="#000" stroke-width="2.2" fill="none"/>
<path d="M902.0 171.6 L914.8 171.6 M903.9 167.1 L912.9 176.2 M908.4 165.2 L908.4 178.0 M912.9 167.1 L903.9 176.2" stroke="#000" stroke-width="2.2" fill="none"/>
<path d="M954.4 129.8 L967.2 129.8 M956.3 125.2 L965.3 134.3 M960.8 123.4 L960.8 136.2 M965.3 125.2 L956.3 134.3" stroke="#000" stroke-width="2.2" fill="none"/>
<path d="M1006.8 87.9 L1019.6 87.9 M1008.7 83.4 L1017.7 92.4 M1013.2 81.5 L1013.2 94.3 M1017.7 83.4 L1008.7 92.4" stroke="#000" stroke-width="2.2" fill="none"/>
</g>
<g font-family="Liberation Serif, serif" fill="#262626" stroke="#262626" stroke-width="0.15">
<text transform="translate(803.6 276.2) scale(1 1)" font-size="19" text-anchor="middle" >0</text>
<text transform="translate(856.0 276.2) scale(1 1)" font-size="19" text-anchor="middle" >2</text>
<text transform="translate(908.4 276.2) scale(1 1)" font-size="19" text-anchor="middle" >4</text>
<text transform="translate(960.8 276.2) scale(1 1)" font-size="19" text-anchor="middle" >6</text>
<text transform="translate(1013.2 276.2) scale(1 1)" font-size="19" text-anchor="middle" >8</text>
<text transform="translate(798.5 258.0) scale(1 1)" font-size="19" text-anchor="end" >0</text>
<text transform="translate(798.5 216.2) scale(1 1)" font-size="19" text-anchor="end" >5</text>
<text transform="translate(798.5 174.3) scale(1 1)" font-size="19" text-anchor="end" >10</text>
<text transform="translate(798.5 132.5) scale(1 1)" font-size="19" text-anchor="end" >15</text>
<text transform="translate(798.5 90.6) scale(1 1)" font-size="19" text-anchor="end" >20</text>
<text transform="translate(798.5 48.8) scale(1 1)" font-size="19" text-anchor="end" >25</text>
<text transform="translate(908.2 297.5) scale(1 1)" font-size="22" text-anchor="middle" font-style="italic" >t</text>
</g>
<rect x="805.4" y="44.4" width="181" height="54.6" fill="#fff" stroke="#262626" stroke-width="0.8"/>
<path d="M810.6 54.1 H839.7" stroke="#0000ff" stroke-width="2.3" fill="none"/>
<rect x="822.0" y="50.5" width="7.2" height="7.2" fill="none" stroke="#0000ff" stroke-width="2.4"/>
<text x="843" y="57.8" font-family="Liberation Serif, serif" fill="#111" stroke="#111" stroke-width="0.2" font-size="12.5" textLength="139.6" lengthAdjust="spacingAndGlyphs"><tspan font-style="italic">x</tspan><tspan font-size="8.5" dy="2.5">1<tspan font-style="italic">ε</tspan></tspan><tspan dy="-2.5">(</tspan><tspan font-style="italic">t</tspan>) s.t.  <tspan font-style="italic">ρ</tspan><tspan font-size="8.5" dy="2.5" font-style="italic">ε</tspan><tspan dy="-2.5">(</tspan><tspan font-style="italic">t</tspan>, <tspan font-style="italic">x</tspan><tspan font-size="8.5" dy="2.5">1<tspan font-style="italic">ε</tspan></tspan><tspan dy="-2.5">(</tspan><tspan font-style="italic">t</tspan>)) = 0.2</text>
<path d="M810.6 71.0 H839.7" stroke="#ff0000" stroke-width="2.3" fill="none"/>
<path d="M825.6 64.1 l4.4 6.9 l-4.4 6.9 l-4.4 -6.9 Z" fill="none" stroke="#ff0000" stroke-width="2.2"/>
<text x="843" y="74.5" font-family="Liberation Serif, serif" fill="#111" stroke="#111" stroke-width="0.2" font-size="12.5" textLength="139.6" lengthAdjust="spacingAndGlyphs"><tspan font-style="italic">x</tspan><tspan font-size="8.5" dy="2.5">2<tspan font-style="italic">ε</tspan></tspan><tspan dy="-2.5">(</tspan><tspan font-style="italic">t</tspan>) s.t.  <tspan font-style="italic">ρ</tspan><tspan font-size="8.5" dy="2.5" font-style="italic">ε</tspan><tspan dy="-2.5">(</tspan><tspan font-style="italic">t</tspan>, <tspan font-style="italic">x</tspan><tspan font-size="8.5" dy="2.5">2<tspan font-style="italic">ε</tspan></tspan><tspan dy="-2.5">(</tspan><tspan font-style="italic">t</tspan>)) = 0.6</text>
<path d="M810.6 88.2 H839.7" stroke="#000" stroke-width="2.3" fill="none"/>
<path d="M819.8 88.2 L831.4 88.2 M821.5 84.1 L829.7 92.3 M825.6 82.4 L825.6 94.0 M829.7 84.1 L821.5 92.3" stroke="#000" stroke-width="2.6" fill="none"/>
<text x="843" y="91.3" font-family="Liberation Serif, serif" fill="#111" stroke="#111" stroke-width="0.2" font-size="12.5" textLength="139.6" lengthAdjust="spacingAndGlyphs"><tspan font-style="italic">x</tspan><tspan font-size="8.5" dy="2.5">3<tspan font-style="italic">ε</tspan></tspan><tspan dy="-2.5">(</tspan><tspan font-style="italic">t</tspan>) s.t.  <tspan font-style="italic">ρ</tspan><tspan font-size="8.5" dy="2.5" font-style="italic">ε</tspan><tspan dy="-2.5">(</tspan><tspan font-style="italic">t</tspan>, <tspan font-style="italic">x</tspan><tspan font-size="8.5" dy="2.5">3<tspan font-style="italic">ε</tspan></tspan><tspan dy="-2.5">(</tspan><tspan font-style="italic">t</tspan>)) = 0.8</text>
</svg>
</body></html>
